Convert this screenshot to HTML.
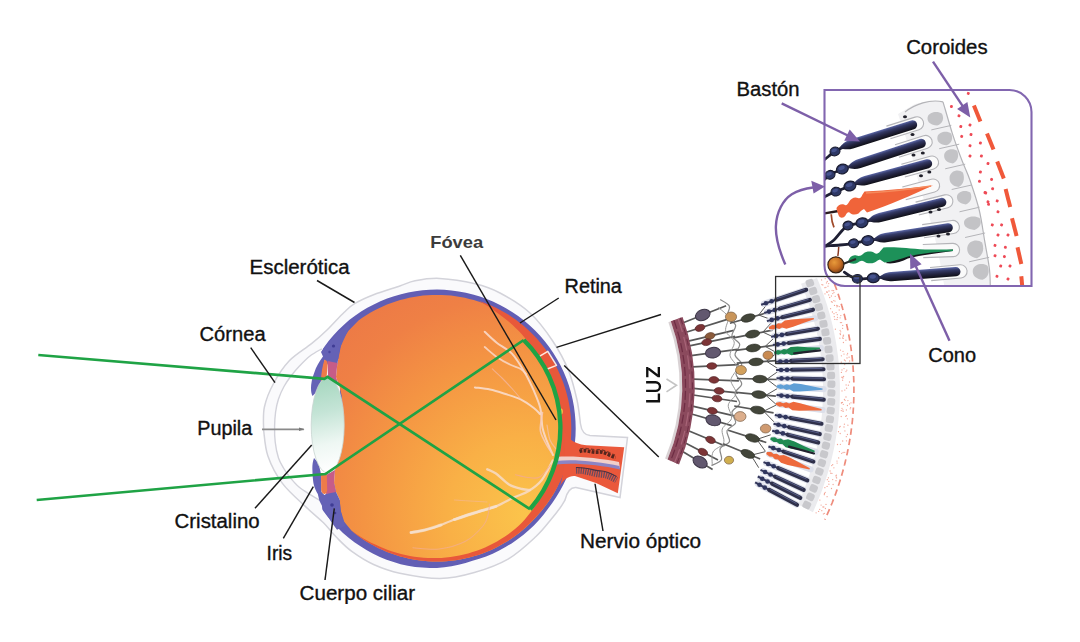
<!DOCTYPE html>
<html><head><meta charset="utf-8"><title>Ojo</title>
<style>html,body{margin:0;padding:0;background:#fff;}svg{display:block}</style></head>
<body>
<svg width="1080" height="642" viewBox="0 0 1080 642">
<defs>
<radialGradient id="gOr" gradientUnits="userSpaceOnUse" cx="525" cy="515" r="260">
 <stop offset="0" stop-color="#fbc44b"/><stop offset="0.3" stop-color="#f9b046"/>
 <stop offset="0.62" stop-color="#f49443"/><stop offset="0.85" stop-color="#ef8045"/><stop offset="1" stop-color="#ed7a46"/>
</radialGradient>
<linearGradient id="gLens" gradientUnits="userSpaceOnUse" x1="318" y1="380" x2="338" y2="470">
 <stop offset="0" stop-color="#a6d7bf"/><stop offset="0.35" stop-color="#c4e4d6"/><stop offset="0.7" stop-color="#eef7f3"/><stop offset="1" stop-color="#ffffff"/>
</linearGradient>
<clipPath id="cEye"><circle cx="437" cy="428.5" r="138"/></clipPath>
<clipPath id="cBack"><path d="M348,280 L600,280 L600,590 L344,590 L344,521 L340.7,510.5 L339.6,499.6 L336,492 L334,483 L335,470 L339.6,456 L344,430 L341.8,396 L339.6,387 L336,377 L337.4,363 L339.6,348 L348,326 Z"/></clipPath>
<clipPath id="cFront"><path d="M338,280 L610,280 L610,600 L330,600 L322,506 L340,500 L340,360 L322,352 Z"/></clipPath><clipPath id="cBox"><path d="M824.5,90 L1009.5,90 A22,22 0 0 1 1031.5,112 L1031.5,286 L845,286 A20.5,20.5 0 0 1 824.5,265.5 Z"/></clipPath><linearGradient id="gRod" x1="0" y1="0" x2="0" y2="1">
<stop offset="0" stop-color="#5b66a6"/><stop offset="0.28" stop-color="#343a66"/><stop offset="0.6" stop-color="#232440"/><stop offset="1" stop-color="#101018"/></linearGradient>
<radialGradient id="gBall" cx="0.4" cy="0.35" r="0.7"><stop offset="0" stop-color="#e89a3a"/><stop offset="0.6" stop-color="#c26a22"/><stop offset="1" stop-color="#6e3a14"/></radialGradient></defs>
<rect width="1080" height="642" fill="#ffffff"/>
<path d="M263.6,430.0 C263.7,426.2 262.7,414.8 264.4,407.0 C266.1,399.2 269.6,390.7 273.8,383.0 C278.0,375.3 283.0,367.4 289.3,360.8 C295.6,354.2 305.2,348.8 311.5,343.7 C317.8,338.6 321.6,335.2 327.0,330.0 C332.4,324.8 339.5,316.6 344.2,312.2 C348.9,307.8 350.1,306.3 355.0,303.4 C359.9,300.5 366.1,297.6 373.6,294.7 C381.1,291.8 392.9,288.3 399.8,286.0 C406.7,283.7 408.4,282.1 415.0,280.8 C421.6,279.5 429.7,277.9 439.7,278.4 C449.7,278.9 464.9,281.3 475.0,283.8 C485.1,286.2 490.8,288.1 500.0,293.0 C509.2,297.9 521.2,305.0 530.0,313.0 C538.8,321.0 546.3,331.4 552.7,341.0 C559.1,350.6 564.5,360.7 568.5,370.5 C572.5,380.3 575.0,391.1 577.0,400.0 C579.0,408.9 579.9,420.0 580.5,424.0 C581.5,431 584,435 590,435.5 L627.5,437.5 L620,497.5 L576,487.5 C570,487 567,492 565,500  C564.2,501.3 562.3,504.8 560.0,508.0 C557.7,511.2 555.4,514.2 551.4,519.0 C547.4,523.8 543.1,529.9 536.0,536.5 C528.9,543.1 518.8,552.8 508.5,558.8 C498.2,564.8 485.7,569.2 474.3,572.5 C462.9,575.8 452.4,578.4 440.0,578.5 C427.6,578.6 410.9,575.5 399.8,573.2 C388.7,570.9 381.6,568.1 373.6,564.5 C365.6,560.9 358.0,555.9 351.8,551.4 C345.6,546.9 341.2,542.1 336.5,537.3 C331.8,532.5 328.5,527.8 323.5,522.8 C318.5,517.8 313.2,514.0 306.4,507.4 C299.5,500.8 288.8,492.0 282.4,483.4 C276.0,474.8 271.0,464.9 267.9,456.0 C264.8,447.1 264.3,434.3 263.6,430.0Z" fill="#fafafc" stroke="#d3d3da" stroke-width="1.5"/>
<path d="M321.8,348.8 C319.8,350.0 313.7,353.1 310.0,356.0 C306.3,358.9 302.7,362.7 299.5,366.0 C296.3,369.3 293.6,372.6 291.0,376.0 C288.4,379.4 286.1,382.7 284.0,386.5 C281.9,390.3 279.9,394.8 278.5,399.0 C277.1,403.2 276.2,407.5 275.6,412.0 C275.0,416.5 274.7,421.0 274.6,426.0 C274.5,431.0 274.6,436.7 275.2,442.0 C275.8,447.3 277.1,453.7 278.5,458.0 C279.9,462.3 281.7,464.9 283.5,468.0 C285.3,471.1 286.7,473.3 289.3,476.5 C291.9,479.7 295.3,483.9 299.0,487.0 C302.7,490.1 308.0,493.1 311.5,495.4 C315.0,497.6 318.6,499.6 320.0,500.5 L332,500 L332,350Z" fill="#ffffff"/>
<path d="M321.8,348.8 C319.8,350.0 313.7,353.1 310.0,356.0 C306.3,358.9 302.7,362.7 299.5,366.0 C296.3,369.3 293.6,372.6 291.0,376.0 C288.4,379.4 286.1,382.7 284.0,386.5 C281.9,390.3 279.9,394.8 278.5,399.0 C277.1,403.2 276.2,407.5 275.6,412.0 C275.0,416.5 274.7,421.0 274.6,426.0 C274.5,431.0 274.6,436.7 275.2,442.0 C275.8,447.3 277.1,453.7 278.5,458.0 C279.9,462.3 281.7,464.9 283.5,468.0 C285.3,471.1 286.7,473.3 289.3,476.5 C291.9,479.7 295.3,483.9 299.0,487.0 C302.7,490.1 308.0,493.1 311.5,495.4 C315.0,497.6 318.6,499.6 320.0,500.5" fill="none" stroke="#d2d2da" stroke-width="1.4"/>
<g clip-path="url(#cFront)">
<polygon points="298.5,428.5 298.6,421.2 299.1,414.0 300.0,406.8 301.3,399.7 302.9,392.6 304.9,385.6 307.3,378.7 310.0,372.0 313.1,365.4 316.5,359.0 320.3,352.7 324.4,346.7 328.8,340.8 333.5,335.3 338.4,329.9 343.7,324.9 349.2,320.1 355.0,315.7 361.1,311.6 367.3,307.8 373.8,304.4 380.4,301.3 387.1,298.6 394.0,296.2 401.0,294.2 408.1,292.5 415.3,291.2 422.5,290.3 429.7,289.7 437.0,289.6 444.3,289.8 451.5,290.4 458.7,291.4 465.9,292.7 472.9,294.4 479.9,296.5 486.7,298.9 493.4,301.8 500.0,304.9 506.4,308.4 512.5,312.2 518.5,316.3 524.3,320.7 529.8,325.4 535.1,330.4 540.1,335.7 544.8,341.2 549.2,347.0 553.3,353.0 557.1,359.2 560.6,365.5 563.7,372.1 566.5,378.8 568.9,385.6 571.0,392.6 572.7,399.7 574.0,406.8 574.9,414.0 575.5,421.2 575.7,428.5 575.5,435.8 574.9,443.0 574.0,450.2 572.7,457.3 571.0,464.4 568.9,471.4 566.4,478.2 563.3,484.7 559.9,491.1 556.1,497.3 552.1,503.2 547.8,509.0 543.5,514.7 538.8,520.2 533.9,525.4 528.7,530.3 523.2,535.0 517.5,539.3 511.6,543.4 505.5,547.1 499.2,550.6 492.7,553.7 486.1,556.4 479.3,558.8 472.5,560.8 465.6,563.0 458.6,564.8 451.5,566.2 444.3,567.3 437.0,568.0 429.7,568.0 422.4,567.6 415.1,566.9 407.8,565.7 400.6,564.2 393.6,562.1 386.6,559.7 379.9,556.9 373.2,553.7 366.8,550.2 360.5,546.3 354.4,542.2 348.6,537.7 343.0,532.9 337.7,527.8 332.6,522.5 327.8,516.9 323.3,511.1 319.2,505.0 315.3,498.8 312.0,492.2 309.0,485.5 306.4,478.6 304.1,471.7 302.3,464.6 300.7,457.5 299.6,450.3 298.9,443.0 298.5,435.8" fill="#625eb4"/>
</g>
<path d="M358.5,320.4 L362.3,317.7 L366.2,315.2 L370.2,312.8 L374.3,310.5 L378.4,308.4 L382.7,306.5 L387.0,304.6 L391.3,303.0 L395.7,301.4 L400.2,300.1 L404.7,298.9 L409.2,297.8 L413.8,296.9 L418.4,296.2 L423.0,295.6 L427.7,295.2 L432.3,295.0 L437.0,294.9 L441.7,295.0 L446.3,295.2 L451.0,295.6 L455.6,296.2 L460.2,296.9 L464.8,297.8 L469.3,298.9 L473.8,300.1 L478.3,301.4 L482.7,303.0 L487.0,304.6 L491.3,306.5 L495.6,308.4 L499.7,310.5 L503.8,312.8 L507.8,315.2 L511.7,317.7 L515.5,320.4 L519.3,323.2 L522.9,326.2 L526.4,329.2 L529.8,332.4 L533.1,335.7 L536.3,339.1 L539.3,342.6 L542.3,346.2 L545.1,350.0 L547.8,353.8 L550.3,357.7 L552.7,361.7 L555.0,365.8 L557.1,369.9 L559.0,374.2 L560.9,378.5 L562.5,382.8 L564.1,387.2 L565.4,391.7 L566.6,396.2 L567.7,400.7 L568.6,405.3 L569.3,409.9 L569.9,414.5 L570.3,419.2 L570.5,423.8 L570.6,428.5 L570.5,433.2 L570.3,437.8 L569.9,442.5 L569.3,447.1 L568.6,451.7 L567.7,456.3 L566.6,460.8 L565.4,465.3 L564.1,469.8 L562.5,474.2 L560.9,478.5 L559.0,482.8 L557.1,487.1 L555.0,491.2 L552.7,495.3 L550.1,499.2 L547.5,503.0 L544.7,506.7 L541.8,510.4 L538.7,513.9 L535.7,517.4 L532.5,520.8 L529.3,524.0 L525.9,527.2 L522.4,530.3 L518.8,533.2 L515.1,536.0 L511.3,538.7 L507.4,541.2 L503.4,543.6 L499.4,545.8 L495.3,548.0 L491.1,549.9 L486.8,551.7 L482.5,553.4 L478.1,554.9 L473.6,556.3 L469.2,557.5 L464.6,558.6 L460.1,559.5 L455.5,560.2 L450.9,560.8 L446.3,561.2 L441.6,561.4 L437.0,561.5 L432.4,561.5 L427.7,561.2 L423.1,560.8 L418.5,560.3 L413.9,559.5 L409.3,558.7 L404.8,557.6 L400.3,556.4 L395.9,555.1 L391.5,553.6 L387.1,551.9 L382.9,550.1 L378.6,548.2 L374.5,546.1 L370.4,543.8 L366.4,541.4 L362.5,538.9 L358.7,536.2 L355.0,533.5 L351.4,530.5 L342.3,519.4 L340.7,510.5 L339.6,499.6 L336,492 L334,483 L335,470 L339.6,456 L344,430 L341.8,396 L339.6,387 L336,377 L337.4,363 L339.8,351.4 L342,340.5 L348.5,330.7 Z" fill="url(#gOr)"/>
<polygon points="478.5,300.8 482.9,302.3 487.3,304.0 491.6,305.8 495.9,307.8 500.1,309.9 504.2,312.2 508.2,314.6 512.1,317.2 515.9,319.8 519.7,322.7 523.3,325.6 526.9,328.7 530.3,331.9 533.6,335.2 536.8,338.6 539.9,342.2 542.8,345.8 545.7,349.6 548.3,353.4 550.9,357.3 553.3,361.4 555.6,365.4 557.7,369.6 559.7,373.9 561.5,378.2 563.2,382.6 564.7,387.0 566.1,391.5 567.3,396.0 568.4,400.6 569.3,405.2 570.0,409.8 570.6,414.5 571.0,419.1 571.2,423.8 571.3,428.5 571.2,433.2 571.0,437.9 570.6,442.5 570.0,447.2 569.3,451.8 568.4,456.4 567.3,461.0 566.1,465.5 564.7,470.0 563.2,474.4 561.4,478.8 559.4,483.0 557.3,487.2 555.1,491.3 552.7,495.3 550.1,499.2 547.5,503.0 544.7,506.7 541.8,510.4 538.7,513.9 535.7,517.4 532.5,520.8 529.3,524.0 525.9,527.2 522.4,530.3 518.8,533.2 515.1,536.0 511.3,538.7 507.4,541.2 503.4,543.6 499.4,545.8 495.3,548.0 491.1,549.9 486.8,551.7 482.5,553.4 478.1,554.9 473.6,556.3 469.2,557.5 464.6,558.6 460.1,559.5 455.5,560.2 450.9,560.8 446.3,561.2 441.6,561.4 437.0,561.5 432.4,561.5 427.7,561.2 423.1,560.8 418.5,560.3 413.9,559.5 409.3,558.7 404.8,557.6 400.3,556.4 395.9,555.1 391.5,553.6 387.1,551.9 382.9,550.1 378.6,548.2 374.5,546.1 370.4,543.8 366.4,541.4 362.5,538.9 358.7,536.2 355.0,533.5 351.4,530.5 351.4,530.5 355.2,533.2 359.0,535.8 363.0,538.2 367.0,540.5 371.1,542.7 375.2,544.6 379.5,546.5 383.7,548.2 387.9,549.9 392.3,551.4 396.6,552.8 401.0,554.0 405.4,555.1 409.9,555.9 414.4,556.7 418.9,557.3 423.4,557.7 427.9,558.0 432.5,558.1 437.0,558.1 441.5,557.9 446.0,557.5 450.5,557.0 455.0,556.3 459.4,555.5 463.8,554.5 468.1,553.4 472.5,552.1 476.7,550.7 480.9,549.2 485.1,547.4 489.1,545.6 493.1,543.6 497.0,541.4 500.9,539.1 504.6,536.7 508.3,534.2 511.8,531.5 515.3,528.7 518.7,525.8 521.8,522.7 524.8,519.4 527.6,516.0 530.4,512.6 533.0,509.1 535.6,505.5 538.1,501.9 540.4,498.3 542.6,494.5 544.7,490.7 546.7,486.8 548.5,482.9 550.3,478.9 552.1,475.0 553.8,471.0 555.2,466.9 556.5,462.8 557.6,458.6 558.6,454.3 559.4,450.1 560.1,445.8 560.6,441.5 561.0,437.2 561.2,432.8 561.3,428.5 561.2,424.2 561.0,419.8 560.6,415.5 560.1,411.2 559.4,406.9 558.6,402.7 557.6,398.4 556.5,394.2 555.2,390.1 553.8,386.0 552.2,381.9 550.6,377.9 548.7,374.0 546.8,370.1 544.6,366.4 542.4,362.6 540.0,359.0 537.6,355.4 534.9,352.0 532.6,348.3 530.1,344.7 527.5,341.1 524.7,337.7 521.8,334.3 518.8,331.1 515.6,327.9 512.3,324.8 508.9,321.8 505.4,319.0 501.8,316.2 498.1,313.6 494.4,310.8 490.6,308.1 486.7,305.5 482.6,303.1 478.5,300.8" fill="#e8583a"/>
<path d="M348,324 C340,330 330,340 321,352 L323,356.5 C319,362 316,367 314.5,372 C312,378 311,384 311,388 C311,392 311.5,394 312.5,396 L316.5,392 C318,388 320,384 321.5,381 L323,372 L324.5,360 L330,368 L337,366 L340,348 L350,326 Z" fill="#6562b6"/>
<circle cx="333.5" cy="346" r="1.6" fill="#3f3c94"/><circle cx="329.5" cy="352" r="1.2" fill="#4a47a0"/>
<path d="M327.6,361 L337.4,363 L336,377 L339,386 L328,378 Z" fill="#c65c88"/>
<path d="M324.5,359.5 C326.5,360 327.8,362 327.6,365 L326.5,379 L321,381 C321,374 322.5,366 324.5,359.5Z" fill="#ee7b4a"/>
<path d="M314,458 C312.5,462 312.2,466 312.4,470 C312.6,476 313,480 313.4,483 C314.5,488 316,491 317.8,494 L319.4,500.7 C321,504 322.5,507 324.4,510.5 C327,515 329,518 331,521.4 L337,529.7 L345,526 L344,521 L340.7,510.5 L339.6,499.6 L336,492 L334,483 L328,478 L327.6,493 L324.4,495 L321.5,492 L321,474 L318.5,463 Z" fill="#6562b6"/>
<circle cx="332" cy="505" r="1.8" fill="#3f3c94"/><circle cx="335" cy="513" r="1.3" fill="#3f3c94"/>
<path d="M326,475 L335,470 L334,483 L336,492 L326,494 Z" fill="#c65c88"/>
<path d="M321,473 L326.8,474 L327.2,490 C327,493 325.5,494.2 324.2,494 C322.5,493.6 321.5,492.5 321.2,490 Z" fill="#ee7b4a"/>
<ellipse cx="327.7" cy="425.2" rx="16.5" ry="47.8" fill="url(#gLens)" stroke="#c8d4d0" stroke-width="0.8"/>
<path d="M484.7,331.8 C486.7,333.6 492.1,339.1 496.7,342.7 C501.2,346.3 507.3,348.6 512.0,353.6 C516.7,358.7 521.4,366.8 525.0,373.0 C528.6,379.2 531.2,384.9 533.8,390.7 C536.3,396.5 538.8,401.8 540.3,408.0 C541.8,414.2 541.4,422.2 542.5,427.7 C543.6,433.2 545.0,436.2 546.8,440.8 C548.5,445.4 552.0,452.6 553.0,455.0" fill="none" stroke="#f9d9c9" stroke-width="2.0" stroke-linecap="round" opacity="0.9"/>
<path d="M484.7,347.0 C486.7,348.6 492.5,354.0 496.7,356.9 C500.9,359.8 505.8,362.5 509.8,364.5 C513.8,366.5 518.0,367.3 520.7,368.9 C523.4,370.5 525.1,373.1 526.0,374.0" fill="none" stroke="#f9d9c9" stroke-width="1.8" stroke-linecap="round" opacity="0.85"/>
<path d="M474.9,387.4 C477.4,387.8 484.9,388.5 490.0,389.6 C495.1,390.7 500.3,392.4 505.4,394.0 C510.5,395.6 516.0,397.1 520.7,399.4 C525.4,401.7 530.6,405.6 533.8,408.0 C537.0,410.4 539.0,413.0 540.0,414.0" fill="none" stroke="#f9dccb" stroke-width="2.0" stroke-linecap="round" opacity="0.9"/>
<path d="M492.3,368.9 C493.9,370.4 498.7,374.7 502.0,378.0 C505.3,381.3 509.0,385.2 512.0,388.5 C515.0,391.8 518.7,396.4 520.0,398.0" fill="none" stroke="#f4b59c" stroke-width="1.1" stroke-linecap="round" opacity="0.8"/>
<path d="M542.5,412.5 C542.1,415.4 539.9,425.1 540.3,430.0 C540.7,434.9 543.2,438.3 545.0,442.0 C546.8,445.7 550.0,450.3 551.0,452.0" fill="none" stroke="#f7cdbd" stroke-width="1.6" stroke-linecap="round" opacity="0.85"/>
<path d="M552.7,460.5 C550.9,463.8 545.8,474.9 541.8,480.0 C537.8,485.1 533.4,488.1 528.7,491.0 C524.0,493.9 519.0,495.0 513.5,497.6 C508.1,500.2 502.6,503.8 496.0,506.4 C489.4,509.0 481.1,510.8 474.2,513.0 C467.3,515.2 461.4,517.0 454.5,519.5 C447.6,522.0 439.9,525.8 432.7,528.0 C425.4,530.2 414.6,531.8 411.0,532.6" fill="none" stroke="#f7dcc8" stroke-width="2.2" stroke-linecap="round" opacity="0.85"/>
<path d="M496.0,506.4 C492.4,507.5 481.1,510.8 474.2,513.0 C467.3,515.2 457.8,518.4 454.5,519.5" fill="none" stroke="#f5e2d2" stroke-width="3.0" stroke-linecap="round" opacity="0.8"/>
<path d="M441.0,525.0 C438.3,525.8 430.0,528.7 425.0,530.0 C420.0,531.3 413.3,532.2 411.0,532.6" fill="none" stroke="#f5e2d2" stroke-width="3.0" stroke-linecap="round" opacity="0.7"/>
<path d="M487.3,469.3 C488.8,470.0 492.4,471.1 496.0,473.6 C499.6,476.1 504.7,481.9 509.0,484.5 C513.3,487.1 518.5,488.1 522.0,489.0 C525.5,489.9 528.7,489.8 530.0,490.0" fill="none" stroke="#f6dcc9" stroke-width="2.4" stroke-linecap="round" opacity="0.85"/>
<path d="M515.6,474.7 C517.7,475.2 524.0,477.1 528.0,477.5 C532.0,477.9 535.9,479.1 539.6,477.0 C543.4,474.9 548.7,467.0 550.5,465.0" fill="none" stroke="#f2aa92" stroke-width="1.1" stroke-linecap="round" opacity="0.8"/>
<path d="M489.5,504.0 C489.2,505.8 489.1,511.3 488.0,515.0 C486.9,518.7 486.8,521.6 483.0,526.0 C479.2,530.4 472.8,537.5 465.5,541.3 C458.2,545.1 448.1,547.9 439.3,549.0 C430.6,550.1 417.4,548.0 413.0,547.8" fill="none" stroke="#f3ad90" stroke-width="1.1" stroke-linecap="round" opacity="0.75"/>
<path d="M454.5,500.0 C457.1,500.2 464.6,500.7 470.0,501.0 C475.4,501.3 484.2,501.8 487.0,502.0" fill="none" stroke="#f3b79c" stroke-width="1.0" stroke-linecap="round" opacity="0.6"/>
<path d="M556.0,449.0 C555.0,447.5 551.5,444.0 550.0,440.0 C548.5,436.0 547.5,427.5 547.0,425.0" fill="none" stroke="#f4c3b4" stroke-width="1.2" stroke-linecap="round" opacity="0.7"/>
<ellipse cx="561" cy="411.5" rx="1.8" ry="3" fill="#f9c84a"/>
<path d="M562,424 C564.5,436 572,444 586.3,445.2 L624.2,447.3 L617.8,493.2 L596,483 L575,476 C569,475.5 564,479 560,486 C565,470 567,446 562,424Z" fill="#ea583b"/>
<path d="M556,457 C575,455.5 600,458.5 619,462 L620,468.2 C600,463 575,460.5 556,463Z" fill="#f1cfc9"/>
<path d="M556,461 C575,459 600,462 619.5,466 L620,469.5 C600,465 575,462.5 556,464.5Z" fill="#8c84c4"/>
<path d="M579.5,451.5 C586,449 592,453 598,452 C604,451 610,456 615.5,457.5" fill="none" stroke="#55261e" stroke-width="3.6" stroke-dasharray="2.8 1.3"/>
<path d="M580,448.8 C586,447 592,450.5 598,449.6 C604,449 610,453.5 615,455" fill="none" stroke="#7a3426" stroke-width="1.2" stroke-dasharray="3.5 2"/>
<path d="M576,470.5 C585,470 594,474 602,474.5 C608,475 612,477.5 616.5,480" fill="none" stroke="#6b4a5e" stroke-width="6.5" stroke-dasharray="1.3 1.0"/>
<path d="M576,467.5 C585,467 594,470.5 602,471 C608,471.5 612,474 616.5,476.5" fill="none" stroke="#4a3040" stroke-width="1.1"/>
<path d="M539,356.7 L547.8,351.3 L556.5,365.4 L546.7,369.3" fill="none" stroke="#fde9df" stroke-width="1.5" stroke-linejoin="round"/>
<path d="M38.3,355 L324.4,378.8 L327.6,376.9 L530,509.2" fill="none" stroke="#1fa345" stroke-width="2.7" stroke-linejoin="miter"/>
<path d="M36.7,500 L325.4,474 L523.75,340" fill="none" stroke="#1fa345" stroke-width="2.7" stroke-linejoin="miter"/>
<path d="M523.75,340 A124,124 0 0 1 530,509.25" fill="none" stroke="#1fa345" stroke-width="4.4" stroke-linejoin="miter"/>
<g id="fan">
<polygon points="801.0,283.7 802.8,288.0 804.5,292.3 806.2,296.6 807.8,301.0 809.3,305.3 810.7,309.8 812.0,314.2 813.3,318.7 814.5,323.2 815.6,327.7 816.7,332.2 817.7,336.8 818.5,341.4 819.4,346.0 820.1,350.6 820.7,355.3 821.3,359.9 821.8,364.6 822.2,369.3 822.5,374.0 822.7,378.7 822.9,383.4 823.0,388.1 823.0,392.9 822.9,397.6 822.7,402.3 822.4,407.1 822.1,411.8 821.7,416.6 821.2,421.3 820.6,426.0 819.9,430.7 819.1,435.4 818.3,440.1 817.4,444.8 816.4,449.5 815.3,454.2 814.1,458.8 812.8,463.5 811.5,468.1 810.1,472.7 808.6,477.3 807.0,481.8 805.3,486.3 803.6,490.9 801.8,495.3 799.9,499.8 797.9,504.2 812.9,512.2 815.0,507.5 817.0,502.8 819.0,498.0 820.9,493.3 822.7,488.5 824.3,483.6 826.0,478.8 827.5,473.9 828.9,469.0 830.3,464.1 831.5,459.2 832.7,454.2 833.8,449.2 834.8,444.3 835.7,439.3 836.5,434.3 837.3,429.3 837.9,424.2 838.5,419.2 838.9,414.2 839.3,409.2 839.6,404.1 839.8,399.1 839.9,394.1 839.9,389.0 839.9,384.0 839.7,379.0 839.5,374.0 839.2,369.0 838.8,364.0 838.3,359.0 837.7,354.1 837.0,349.2 836.3,344.2 835.4,339.3 834.5,334.4 833.5,329.6 832.4,324.7 831.2,319.9 830.0,315.1 828.6,310.4 827.2,305.6 825.7,300.9 824.1,296.3 822.4,291.6 820.7,287.0 818.9,282.5 817.0,277.9" fill="#ebebee"/>
<line x1="683.2" y1="322.7" x2="726.1" y2="305.8" stroke="#585858" stroke-width="1.7"/>
<line x1="686.1" y1="332.3" x2="730.5" y2="318.4" stroke="#585858" stroke-width="1.7"/>
<line x1="688.4" y1="341.2" x2="733.8" y2="330.3" stroke="#585858" stroke-width="1.7"/>
<line x1="689.4" y1="345.8" x2="735.1" y2="336.3" stroke="#585858" stroke-width="1.7"/>
<line x1="691.1" y1="355.6" x2="737.4" y2="349.4" stroke="#585858" stroke-width="1.7"/>
<line x1="692.6" y1="366.9" x2="738.8" y2="364.6" stroke="#585858" stroke-width="1.7"/>
<line x1="693.4" y1="379.1" x2="738.9" y2="380.8" stroke="#585858" stroke-width="1.7"/>
<line x1="693.5" y1="388.3" x2="738.0" y2="392.8" stroke="#585858" stroke-width="1.7"/>
<line x1="693.3" y1="395.0" x2="737.0" y2="401.5" stroke="#585858" stroke-width="1.7"/>
<line x1="692.5" y1="406.2" x2="734.2" y2="415.8" stroke="#585858" stroke-width="1.7"/>
<line x1="691.6" y1="414.0" x2="731.7" y2="425.6" stroke="#585858" stroke-width="1.7"/>
<line x1="688.5" y1="430.7" x2="724.6" y2="445.8" stroke="#585858" stroke-width="1.7"/>
<line x1="685.4" y1="442.9" x2="718.0" y2="459.9" stroke="#585858" stroke-width="1.7"/>
<line x1="682.6" y1="451.6" x2="712.6" y2="469.5" stroke="#585858" stroke-width="1.7"/>
<path d="M720.2,299.6 C721.7,300.7 728.3,303.3 729.4,306.3 C730.6,309.2 726.0,314.3 727.0,317.4 C728.1,320.6 734.7,322.0 735.6,325.1 C736.4,328.2 731.3,332.7 732.0,336.0 C732.7,339.2 739.2,341.3 739.7,344.4 C740.2,347.6 734.7,351.6 735.0,354.9 C735.3,358.2 741.6,360.9 741.7,364.1 C741.9,367.3 736.0,370.7 736.0,374.0 C736.0,377.3 741.9,380.7 741.7,383.9 C741.6,387.1 735.3,389.8 735.0,393.1 C734.7,396.4 740.2,400.4 739.7,403.6 C739.2,406.7 732.7,408.8 732.0,412.0 C731.3,415.3 736.4,419.8 735.6,422.9 C734.7,426.0 728.1,427.4 727.0,430.6 C726.0,433.7 730.6,438.8 729.4,441.7 C728.3,444.7 721.5,445.4 720.2,448.4 C718.8,451.4 722.8,457.0 721.4,459.8 C720.0,462.6 713.1,464.6 711.5,465.5" fill="none" stroke="#8a8a8a" stroke-width="1.2"/>
<path d="M718.0,307.3 C719.7,309.0 726.7,313.2 728.0,317.1 C729.3,321.1 724.7,326.8 725.7,330.9 C726.7,335.1 733.5,338.0 734.2,342.0 C734.9,346.1 729.6,351.1 730.0,355.4 C730.5,359.6 736.7,363.4 736.9,367.6 C737.0,371.7 731.0,375.9 730.9,380.2 C730.7,384.5 736.4,389.1 736.0,393.2 C735.6,397.3 729.0,400.7 728.3,404.9 C727.6,409.1 732.5,414.5 731.5,418.5 C730.5,422.5 723.6,424.9 722.3,429.0 C721.0,433.1 725.2,439.1 723.6,442.9 C722.1,446.8 714.9,448.2 713.0,452.0 C711.1,455.9 712.5,463.7 712.3,466.0" fill="none" stroke="#9a9a9a" stroke-width="1"/>
<line x1="729.9" y1="323.3" x2="768.3" y2="312.3" stroke="#585858" stroke-width="1.7"/>
<line x1="758.7" y1="315.0" x2="767.7" y2="303.4" stroke="#585858" stroke-width="1"/>
<line x1="758.7" y1="315.0" x2="772.5" y2="320.1" stroke="#585858" stroke-width="1"/>
<line x1="733.4" y1="337.9" x2="772.7" y2="330.1" stroke="#585858" stroke-width="1.7"/>
<line x1="762.9" y1="332.1" x2="772.8" y2="321.2" stroke="#585858" stroke-width="1"/>
<line x1="762.9" y1="332.1" x2="776.2" y2="338.3" stroke="#585858" stroke-width="1"/>
<line x1="735.5" y1="350.3" x2="775.1" y2="345.1" stroke="#585858" stroke-width="1.7"/>
<line x1="765.2" y1="346.4" x2="775.8" y2="336.3" stroke="#585858" stroke-width="1"/>
<line x1="765.2" y1="346.4" x2="778.1" y2="353.5" stroke="#585858" stroke-width="1"/>
<line x1="736.7" y1="363.1" x2="776.6" y2="360.7" stroke="#585858" stroke-width="1.7"/>
<line x1="766.6" y1="361.3" x2="777.9" y2="351.9" stroke="#585858" stroke-width="1"/>
<line x1="766.6" y1="361.3" x2="779.0" y2="369.3" stroke="#585858" stroke-width="1"/>
<line x1="736.9" y1="378.5" x2="776.9" y2="379.5" stroke="#585858" stroke-width="1.7"/>
<line x1="766.9" y1="379.2" x2="779.0" y2="370.8" stroke="#585858" stroke-width="1"/>
<line x1="766.9" y1="379.2" x2="778.6" y2="388.2" stroke="#585858" stroke-width="1"/>
<line x1="736.1" y1="392.3" x2="775.9" y2="396.2" stroke="#585858" stroke-width="1.7"/>
<line x1="765.9" y1="395.3" x2="778.6" y2="387.8" stroke="#585858" stroke-width="1"/>
<line x1="765.9" y1="395.3" x2="776.9" y2="405.1" stroke="#585858" stroke-width="1"/>
<line x1="734.2" y1="406.0" x2="773.6" y2="412.9" stroke="#585858" stroke-width="1.7"/>
<line x1="763.7" y1="411.2" x2="776.9" y2="404.7" stroke="#585858" stroke-width="1"/>
<line x1="763.7" y1="411.2" x2="773.9" y2="421.8" stroke="#585858" stroke-width="1"/>
<line x1="728.2" y1="430.2" x2="766.3" y2="442.5" stroke="#585858" stroke-width="1.7"/>
<line x1="756.8" y1="439.4" x2="770.7" y2="434.8" stroke="#585858" stroke-width="1"/>
<line x1="756.8" y1="439.4" x2="765.4" y2="451.3" stroke="#585858" stroke-width="1"/>
<line x1="723.2" y1="443.8" x2="760.2" y2="459.0" stroke="#585858" stroke-width="1.7"/>
<line x1="751.0" y1="455.2" x2="765.2" y2="451.7" stroke="#585858" stroke-width="1"/>
<line x1="751.0" y1="455.2" x2="758.7" y2="467.7" stroke="#585858" stroke-width="1"/>
<ellipse cx="702.8" cy="315.0" rx="7.6" ry="5.3" transform="rotate(-21.5 702.8 315.0)" fill="#62586f" stroke="#3d3647" stroke-width="1"/>
<ellipse cx="700.0" cy="327.9" rx="5" ry="3.3" transform="rotate(-17.4 700.0 327.9)" fill="#7c3436" stroke="#4e2226" stroke-width="0.6"/>
<ellipse cx="710.0" cy="336.0" rx="5" ry="3.3" transform="rotate(-13.6 710.0 336.0)" fill="#8a5a3a" stroke="#5a3a2a" stroke-width="0.6"/>
<ellipse cx="706.7" cy="342.2" rx="5" ry="3.3" transform="rotate(-11.7 706.7 342.2)" fill="#7c3436" stroke="#4e2226" stroke-width="0.6"/>
<ellipse cx="713.0" cy="352.7" rx="7.6" ry="5.3" transform="rotate(-7.6 713.0 352.7)" fill="#62586f" stroke="#3d3647" stroke-width="1"/>
<ellipse cx="711.8" cy="366.0" rx="5" ry="3.3" transform="rotate(-2.9 711.8 366.0)" fill="#7c3436" stroke="#4e2226" stroke-width="0.6"/>
<ellipse cx="713.9" cy="379.9" rx="5" ry="3.3" transform="rotate(2.1 713.9 379.9)" fill="#7c3436" stroke="#4e2226" stroke-width="0.6"/>
<ellipse cx="719.1" cy="390.9" rx="5" ry="3.3" transform="rotate(5.8 719.1 390.9)" fill="#7c3436" stroke="#4e2226" stroke-width="0.6"/>
<ellipse cx="717.0" cy="398.5" rx="5" ry="3.3" transform="rotate(8.5 717.0 398.5)" fill="#7c3436" stroke="#4e2226" stroke-width="0.6"/>
<ellipse cx="712.3" cy="410.8" rx="5" ry="3.3" transform="rotate(13.0 712.3 410.8)" fill="#7c3436" stroke="#4e2226" stroke-width="0.6"/>
<ellipse cx="713.3" cy="420.3" rx="7.6" ry="5.3" transform="rotate(16.1 713.3 420.3)" fill="#62586f" stroke="#3d3647" stroke-width="1"/>
<ellipse cx="710.5" cy="439.9" rx="5" ry="3.3" transform="rotate(22.7 710.5 439.9)" fill="#7c3436" stroke="#4e2226" stroke-width="0.6"/>
<ellipse cx="702.9" cy="452.0" rx="5" ry="3.3" transform="rotate(27.5 702.9 452.0)" fill="#7c3436" stroke="#4e2226" stroke-width="0.6"/>
<ellipse cx="700.1" cy="462.0" rx="7.6" ry="5.3" transform="rotate(30.9 700.1 462.0)" fill="#62586f" stroke="#3d3647" stroke-width="1"/>
<ellipse cx="731.0" cy="316.8" rx="5.6" ry="4.8" fill="#c9955a" stroke="#7a6048" stroke-width="0.7"/>
<ellipse cx="741.0" cy="370.1" rx="5.4" ry="4.6" fill="#d2a05c" stroke="#7a6048" stroke-width="0.7"/>
<ellipse cx="768.0" cy="355.2" rx="5.0" ry="4.2" fill="#c98a50" stroke="#7a6048" stroke-width="0.7"/>
<ellipse cx="740.2" cy="416.5" rx="5.8" ry="4.9" fill="#dcae8c" stroke="#7a6048" stroke-width="0.7"/>
<ellipse cx="765.6" cy="428.6" rx="5.2" ry="4.4" fill="#cf9a70" stroke="#7a6048" stroke-width="0.7"/>
<ellipse cx="729.0" cy="460.2" rx="4.6" ry="3.9" fill="#cfae4e" stroke="#7a6048" stroke-width="0.7"/>
<ellipse cx="748.1" cy="318.0" rx="7.2" ry="3.8" transform="rotate(-16.0 748.1 318.0)" fill="#43463a" stroke="#2c2e26" stroke-width="0.6"/>
<ellipse cx="752.6" cy="334.1" rx="7.2" ry="3.8" transform="rotate(-11.3 752.6 334.1)" fill="#43463a" stroke="#2c2e26" stroke-width="0.6"/>
<ellipse cx="753.3" cy="348.0" rx="7.2" ry="3.8" transform="rotate(-7.4 753.3 348.0)" fill="#43463a" stroke="#2c2e26" stroke-width="0.6"/>
<ellipse cx="756.0" cy="361.9" rx="7.2" ry="3.8" transform="rotate(-3.4 756.0 361.9)" fill="#43463a" stroke="#2c2e26" stroke-width="0.6"/>
<ellipse cx="759.9" cy="379.1" rx="7.2" ry="3.8" transform="rotate(1.4 759.9 379.1)" fill="#43463a" stroke="#2c2e26" stroke-width="0.6"/>
<ellipse cx="759.0" cy="394.6" rx="7.2" ry="3.8" transform="rotate(5.7 759.0 394.6)" fill="#43463a" stroke="#2c2e26" stroke-width="0.6"/>
<ellipse cx="757.8" cy="410.1" rx="7.2" ry="3.8" transform="rotate(10.0 757.8 410.1)" fill="#43463a" stroke="#2c2e26" stroke-width="0.6"/>
<ellipse cx="752.5" cy="438.0" rx="7.2" ry="3.8" transform="rotate(17.8 752.5 438.0)" fill="#43463a" stroke="#2c2e26" stroke-width="0.6"/>
<ellipse cx="747.8" cy="453.9" rx="7.2" ry="3.8" transform="rotate(22.3 747.8 453.9)" fill="#43463a" stroke="#2c2e26" stroke-width="0.6"/>
<path d="M669.6,321.8 A188.5,188.5 0 0 1 666.3,459.1" fill="none" stroke="#d9d2d4" stroke-width="2.6" />
<path d="M676.7,319.2 A196.0,196.0 0 0 1 673.3,462.0" fill="none" stroke="#8b4a5d" stroke-width="12.5" />
<path d="M673.9,320.2 A193.0,193.0 0 0 1 670.5,460.9" fill="none" stroke="#6e2d44" stroke-width="1.2" stroke-dasharray="9 3"/>
<path d="M678.1,318.7 A197.5,197.5 0 0 1 674.6,462.6" fill="none" stroke="#a86478" stroke-width="1.2" stroke-dasharray="14 5"/>
<path d="M680.4,317.8 A200.0,200.0 0 0 1 676.9,463.6" fill="none" stroke="#6e2d44" stroke-width="1.0" stroke-dasharray="7 4"/>
<line x1="764.0" y1="303.8" x2="805.7" y2="289.9" stroke="#dcdfea" stroke-width="6.2" stroke-linecap="round"/>
<line x1="767.1" y1="312.2" x2="809.4" y2="300.0" stroke="#dcdfea" stroke-width="6.2" stroke-linecap="round"/>
<line x1="769.8" y1="320.4" x2="812.5" y2="309.8" stroke="#dcdfea" stroke-width="6.2" stroke-linecap="round"/>
<line x1="771.8" y1="327.5" x2="814.9" y2="318.3" stroke="#dcdfea" stroke-width="6.2" stroke-linecap="round"/>
<line x1="774.0" y1="336.2" x2="817.4" y2="328.8" stroke="#dcdfea" stroke-width="6.2" stroke-linecap="round"/>
<line x1="775.8" y1="344.7" x2="819.4" y2="338.9" stroke="#dcdfea" stroke-width="6.2" stroke-linecap="round"/>
<line x1="777.1" y1="352.4" x2="820.9" y2="348.2" stroke="#dcdfea" stroke-width="6.2" stroke-linecap="round"/>
<line x1="778.3" y1="361.6" x2="822.2" y2="359.2" stroke="#dcdfea" stroke-width="6.2" stroke-linecap="round"/>
<line x1="779.1" y1="370.1" x2="823.0" y2="369.3" stroke="#dcdfea" stroke-width="6.2" stroke-linecap="round"/>
<line x1="779.5" y1="378.3" x2="823.5" y2="379.2" stroke="#dcdfea" stroke-width="6.2" stroke-linecap="round"/>
<line x1="779.6" y1="386.7" x2="823.6" y2="389.1" stroke="#dcdfea" stroke-width="6.2" stroke-linecap="round"/>
<line x1="779.5" y1="395.4" x2="823.3" y2="399.5" stroke="#dcdfea" stroke-width="6.2" stroke-linecap="round"/>
<line x1="778.9" y1="404.1" x2="822.5" y2="410.0" stroke="#dcdfea" stroke-width="6.2" stroke-linecap="round"/>
<line x1="777.7" y1="415.7" x2="821.0" y2="423.7" stroke="#dcdfea" stroke-width="6.2" stroke-linecap="round"/>
<line x1="776.4" y1="424.4" x2="819.4" y2="434.0" stroke="#dcdfea" stroke-width="6.2" stroke-linecap="round"/>
<line x1="775.1" y1="431.4" x2="817.7" y2="442.5" stroke="#dcdfea" stroke-width="6.2" stroke-linecap="round"/>
<line x1="773.4" y1="439.3" x2="815.6" y2="451.8" stroke="#dcdfea" stroke-width="6.2" stroke-linecap="round"/>
<line x1="771.3" y1="447.5" x2="813.0" y2="461.5" stroke="#dcdfea" stroke-width="6.2" stroke-linecap="round"/>
<line x1="769.3" y1="454.0" x2="810.6" y2="469.3" stroke="#dcdfea" stroke-width="6.2" stroke-linecap="round"/>
<line x1="766.3" y1="463.2" x2="806.9" y2="480.2" stroke="#dcdfea" stroke-width="6.2" stroke-linecap="round"/>
<line x1="763.3" y1="471.2" x2="803.2" y2="489.6" stroke="#dcdfea" stroke-width="6.2" stroke-linecap="round"/>
<line x1="760.5" y1="477.9" x2="799.8" y2="497.6" stroke="#dcdfea" stroke-width="6.2" stroke-linecap="round"/>
<line x1="757.8" y1="483.8" x2="796.6" y2="504.6" stroke="#dcdfea" stroke-width="6.2" stroke-linecap="round"/>
<line x1="761.1" y1="304.8" x2="776.3" y2="299.7" stroke="#34375a" stroke-width="2"/>
<circle cx="765.9" cy="303.2" r="2.3" fill="#30365e"/>
<circle cx="771.6" cy="301.3" r="2.3" fill="#30365e"/>
<line x1="776.3" y1="299.7" x2="806.2" y2="289.8" stroke="#2f304a" stroke-width="4.1" stroke-linecap="round"/>
<line x1="777.0" y1="298.5" x2="804.5" y2="289.4" stroke="#5a6290" stroke-width="0.9" stroke-linecap="round"/>
<line x1="764.2" y1="313.0" x2="779.6" y2="308.6" stroke="#34375a" stroke-width="2"/>
<circle cx="769.0" cy="311.6" r="2.3" fill="#30365e"/>
<circle cx="774.8" cy="310.0" r="2.3" fill="#30365e"/>
<line x1="779.6" y1="308.6" x2="809.9" y2="299.9" stroke="#2f304a" stroke-width="4.1" stroke-linecap="round"/>
<line x1="780.3" y1="307.4" x2="808.2" y2="299.4" stroke="#5a6290" stroke-width="0.9" stroke-linecap="round"/>
<line x1="766.9" y1="321.1" x2="782.4" y2="317.2" stroke="#34375a" stroke-width="2"/>
<circle cx="771.7" cy="319.9" r="2.3" fill="#30365e"/>
<circle cx="777.5" cy="318.4" r="2.3" fill="#30365e"/>
<line x1="782.4" y1="317.2" x2="813.0" y2="309.7" stroke="#2f304a" stroke-width="4.1" stroke-linecap="round"/>
<line x1="783.1" y1="316.1" x2="811.3" y2="309.1" stroke="#5a6290" stroke-width="0.9" stroke-linecap="round"/>
<polygon points="769.1,329.1 773.3,329.6 776.1,328.1 779.3,328.9 782.0,327.4 786.4,328.7 793.2,326.8 802.6,323.3 814.0,319.2 813.7,317.9 801.7,318.8 791.6,319.4 784.7,320.5 781.2,323.5 778.1,323.2 775.4,325.2 772.3,324.9 768.7,327.1" fill="#ee6a3c"/>
<line x1="771.1" y1="336.7" x2="786.8" y2="334.0" stroke="#34375a" stroke-width="2"/>
<circle cx="776.0" cy="335.9" r="2.3" fill="#30365e"/>
<circle cx="781.9" cy="334.9" r="2.3" fill="#30365e"/>
<line x1="786.8" y1="334.0" x2="817.9" y2="328.7" stroke="#2f304a" stroke-width="4.1" stroke-linecap="round"/>
<line x1="787.7" y1="333.0" x2="816.2" y2="328.1" stroke="#5a6290" stroke-width="0.9" stroke-linecap="round"/>
<line x1="772.8" y1="345.1" x2="788.7" y2="343.0" stroke="#34375a" stroke-width="2"/>
<circle cx="777.7" cy="344.4" r="2.3" fill="#30365e"/>
<circle cx="783.7" cy="343.6" r="2.3" fill="#30365e"/>
<line x1="788.7" y1="343.0" x2="819.9" y2="338.9" stroke="#2f304a" stroke-width="4.1" stroke-linecap="round"/>
<line x1="789.5" y1="341.9" x2="818.3" y2="338.1" stroke="#5a6290" stroke-width="0.9" stroke-linecap="round"/>
<polygon points="774.2,353.7 778.3,354.7 781.2,353.5 784.3,354.6 787.2,353.5 791.4,355.3 798.3,354.2 808.2,351.7 820.0,349.0 819.8,347.6 807.7,347.2 797.6,346.6 790.6,346.9 786.8,349.5 783.8,348.9 780.9,350.5 777.8,349.9 774.0,351.7" fill="#1f8a52"/>
<line x1="794.2" y1="353.3" x2="820.1" y2="350.4" stroke="#22222e" stroke-width="2.2" stroke-linecap="round"/>
<line x1="775.3" y1="361.8" x2="791.3" y2="360.9" stroke="#34375a" stroke-width="2"/>
<circle cx="780.3" cy="361.5" r="2.3" fill="#30365e"/>
<circle cx="786.3" cy="361.2" r="2.3" fill="#30365e"/>
<line x1="791.3" y1="360.9" x2="822.7" y2="359.2" stroke="#2f304a" stroke-width="4.1" stroke-linecap="round"/>
<line x1="792.2" y1="359.9" x2="821.2" y2="358.3" stroke="#5a6290" stroke-width="0.9" stroke-linecap="round"/>
<line x1="776.1" y1="370.1" x2="792.0" y2="369.8" stroke="#34375a" stroke-width="2"/>
<circle cx="781.1" cy="370.0" r="2.3" fill="#30365e"/>
<circle cx="787.0" cy="369.9" r="2.3" fill="#30365e"/>
<line x1="792.0" y1="369.8" x2="823.5" y2="369.3" stroke="#2f304a" stroke-width="4.1" stroke-linecap="round"/>
<line x1="793.0" y1="368.9" x2="822.0" y2="368.4" stroke="#5a6290" stroke-width="0.9" stroke-linecap="round"/>
<line x1="776.5" y1="378.3" x2="792.5" y2="378.6" stroke="#34375a" stroke-width="2"/>
<circle cx="781.5" cy="378.4" r="2.3" fill="#30365e"/>
<circle cx="787.5" cy="378.5" r="2.3" fill="#30365e"/>
<line x1="792.5" y1="378.6" x2="824.0" y2="379.2" stroke="#2f304a" stroke-width="4.1" stroke-linecap="round"/>
<line x1="793.5" y1="377.7" x2="822.5" y2="378.2" stroke="#5a6290" stroke-width="0.9" stroke-linecap="round"/>
<polygon points="776.6,387.5 780.5,389.1 783.5,388.4 786.5,390.0 789.5,389.2 793.4,391.6 800.4,391.6 810.5,390.7 822.5,389.8 822.6,388.4 810.7,386.1 800.8,384.0 793.8,383.3 789.7,385.2 786.8,384.2 783.7,385.4 780.8,384.3 776.7,385.5" fill="#5f9fd6"/>
<line x1="776.5" y1="395.1" x2="792.4" y2="396.6" stroke="#34375a" stroke-width="2"/>
<circle cx="781.4" cy="395.6" r="2.3" fill="#30365e"/>
<circle cx="787.4" cy="396.2" r="2.3" fill="#30365e"/>
<line x1="792.4" y1="396.6" x2="823.8" y2="399.6" stroke="#2f304a" stroke-width="4.1" stroke-linecap="round"/>
<line x1="793.5" y1="395.8" x2="822.3" y2="398.5" stroke="#5a6290" stroke-width="0.9" stroke-linecap="round"/>
<polygon points="775.8,404.7 779.6,406.7 782.7,406.2 785.5,407.9 788.6,407.5 792.3,410.2 799.2,410.7 809.4,410.5 821.5,410.5 821.6,409.1 810.0,406.0 800.2,403.2 793.4,401.8 789.1,403.5 786.3,402.2 783.1,403.2 780.2,401.9 776.1,402.8" fill="#ee6a3c"/>
<line x1="774.8" y1="415.1" x2="790.5" y2="418.0" stroke="#34375a" stroke-width="2"/>
<circle cx="779.7" cy="416.0" r="2.3" fill="#30365e"/>
<circle cx="785.6" cy="417.1" r="2.3" fill="#30365e"/>
<line x1="790.5" y1="418.0" x2="821.5" y2="423.8" stroke="#2f304a" stroke-width="4.1" stroke-linecap="round"/>
<line x1="791.7" y1="417.3" x2="820.2" y2="422.6" stroke="#5a6290" stroke-width="0.9" stroke-linecap="round"/>
<line x1="773.5" y1="423.7" x2="789.1" y2="427.2" stroke="#34375a" stroke-width="2"/>
<circle cx="778.4" cy="424.8" r="2.3" fill="#30365e"/>
<circle cx="784.2" cy="426.1" r="2.3" fill="#30365e"/>
<line x1="789.1" y1="427.2" x2="819.8" y2="434.1" stroke="#2f304a" stroke-width="4.1" stroke-linecap="round"/>
<line x1="790.3" y1="426.5" x2="818.6" y2="432.9" stroke="#5a6290" stroke-width="0.9" stroke-linecap="round"/>
<line x1="772.2" y1="430.7" x2="787.7" y2="434.7" stroke="#34375a" stroke-width="2"/>
<circle cx="777.0" cy="431.9" r="2.3" fill="#30365e"/>
<circle cx="782.9" cy="433.4" r="2.3" fill="#30365e"/>
<line x1="787.7" y1="434.7" x2="818.2" y2="442.6" stroke="#2f304a" stroke-width="4.1" stroke-linecap="round"/>
<line x1="788.9" y1="434.0" x2="817.0" y2="441.3" stroke="#5a6290" stroke-width="0.9" stroke-linecap="round"/>
<polygon points="770.2,439.4 773.7,441.9 776.8,441.9 779.3,444.0 782.4,444.0 785.6,447.3 792.4,448.9 802.5,450.3 814.4,452.2 814.8,450.8 803.8,445.9 794.6,441.6 788.0,439.2 783.5,440.2 780.9,438.5 777.6,439.0 775.0,437.3 770.8,437.5" fill="#1f8a52"/>
<line x1="788.9" y1="446.6" x2="814.0" y2="453.5" stroke="#22222e" stroke-width="2.2" stroke-linecap="round"/>
<line x1="768.4" y1="446.5" x2="783.6" y2="451.6" stroke="#34375a" stroke-width="2"/>
<circle cx="773.2" cy="448.1" r="2.3" fill="#30365e"/>
<circle cx="778.9" cy="450.0" r="2.3" fill="#30365e"/>
<line x1="783.6" y1="451.6" x2="813.4" y2="461.6" stroke="#2f304a" stroke-width="4.1" stroke-linecap="round"/>
<line x1="784.8" y1="451.0" x2="812.3" y2="460.3" stroke="#5a6290" stroke-width="0.9" stroke-linecap="round"/>
<polygon points="766.2,453.9 769.4,456.6 772.6,456.8 774.9,459.2 778.0,459.4 781.0,462.8 787.7,464.9 797.6,466.9 809.4,469.6 809.9,468.3 799.2,462.6 790.4,457.7 783.9,454.9 779.4,455.6 776.9,453.7 773.6,454.0 771.1,452.1 766.9,452.0" fill="#ee6a3c"/>
<line x1="763.5" y1="462.1" x2="778.3" y2="468.2" stroke="#34375a" stroke-width="2"/>
<circle cx="768.1" cy="464.0" r="2.3" fill="#30365e"/>
<circle cx="773.7" cy="466.3" r="2.3" fill="#30365e"/>
<line x1="778.3" y1="468.2" x2="807.3" y2="480.4" stroke="#2f304a" stroke-width="4.1" stroke-linecap="round"/>
<line x1="779.5" y1="467.7" x2="806.3" y2="478.9" stroke="#5a6290" stroke-width="0.9" stroke-linecap="round"/>
<line x1="760.5" y1="469.9" x2="775.1" y2="476.6" stroke="#34375a" stroke-width="2"/>
<circle cx="765.1" cy="472.0" r="2.3" fill="#30365e"/>
<circle cx="770.5" cy="474.5" r="2.3" fill="#30365e"/>
<line x1="775.1" y1="476.6" x2="803.7" y2="489.8" stroke="#2f304a" stroke-width="4.1" stroke-linecap="round"/>
<line x1="776.4" y1="476.2" x2="802.7" y2="488.3" stroke="#5a6290" stroke-width="0.9" stroke-linecap="round"/>
<line x1="757.8" y1="476.5" x2="772.1" y2="483.7" stroke="#34375a" stroke-width="2"/>
<circle cx="762.2" cy="478.8" r="2.3" fill="#30365e"/>
<circle cx="767.6" cy="481.5" r="2.3" fill="#30365e"/>
<line x1="772.1" y1="483.7" x2="800.3" y2="497.8" stroke="#2f304a" stroke-width="4.1" stroke-linecap="round"/>
<line x1="773.4" y1="483.3" x2="799.3" y2="496.3" stroke="#5a6290" stroke-width="0.9" stroke-linecap="round"/>
<line x1="755.1" y1="482.4" x2="769.2" y2="489.9" stroke="#34375a" stroke-width="2"/>
<circle cx="759.5" cy="484.7" r="2.3" fill="#30365e"/>
<circle cx="764.8" cy="487.6" r="2.3" fill="#30365e"/>
<line x1="769.2" y1="489.9" x2="797.0" y2="504.8" stroke="#2f304a" stroke-width="4.1" stroke-linecap="round"/>
<line x1="770.6" y1="489.6" x2="796.1" y2="503.3" stroke="#5a6290" stroke-width="0.9" stroke-linecap="round"/>
<rect x="805.9" y="279.3" width="8" height="7.4" rx="2.2" transform="rotate(-19.5 809.9 283.0)" fill="#c8c8cc"/>
<rect x="809.1" y="287.3" width="8" height="7.4" rx="2.2" transform="rotate(-17.7 813.1 291.0)" fill="#c8c8cc"/>
<rect x="812.1" y="295.4" width="8" height="7.4" rx="2.2" transform="rotate(-15.9 816.1 299.1)" fill="#c8c8cc"/>
<rect x="814.8" y="303.5" width="8" height="7.4" rx="2.2" transform="rotate(-14.1 818.8 307.2)" fill="#c8c8cc"/>
<rect x="817.3" y="311.8" width="8" height="7.4" rx="2.2" transform="rotate(-12.3 821.3 315.5)" fill="#c8c8cc"/>
<rect x="819.5" y="320.2" width="8" height="7.4" rx="2.2" transform="rotate(-10.5 823.5 323.9)" fill="#c8c8cc"/>
<rect x="821.4" y="328.6" width="8" height="7.4" rx="2.2" transform="rotate(-8.7 825.4 332.3)" fill="#c8c8cc"/>
<rect x="823.1" y="337.1" width="8" height="7.4" rx="2.2" transform="rotate(-6.9 827.1 340.8)" fill="#c8c8cc"/>
<rect x="824.5" y="345.7" width="8" height="7.4" rx="2.2" transform="rotate(-5.1 828.5 349.4)" fill="#c8c8cc"/>
<rect x="825.6" y="354.4" width="8" height="7.4" rx="2.2" transform="rotate(-3.3 829.6 358.1)" fill="#c8c8cc"/>
<rect x="826.5" y="363.0" width="8" height="7.4" rx="2.2" transform="rotate(-1.5 830.5 366.7)" fill="#c8c8cc"/>
<rect x="827.1" y="371.8" width="8" height="7.4" rx="2.2" transform="rotate(0.3 831.1 375.5)" fill="#c8c8cc"/>
<rect x="827.4" y="380.5" width="8" height="7.4" rx="2.2" transform="rotate(2.1 831.4 384.2)" fill="#c8c8cc"/>
<rect x="827.4" y="389.3" width="8" height="7.4" rx="2.2" transform="rotate(3.9 831.4 393.0)" fill="#c8c8cc"/>
<rect x="827.2" y="398.1" width="8" height="7.4" rx="2.2" transform="rotate(5.7 831.2 401.8)" fill="#c8c8cc"/>
<rect x="826.7" y="406.9" width="8" height="7.4" rx="2.2" transform="rotate(7.5 830.7 410.6)" fill="#c8c8cc"/>
<rect x="825.9" y="415.6" width="8" height="7.4" rx="2.2" transform="rotate(9.3 829.9 419.3)" fill="#c8c8cc"/>
<rect x="824.8" y="424.4" width="8" height="7.4" rx="2.2" transform="rotate(11.1 828.8 428.1)" fill="#c8c8cc"/>
<rect x="823.5" y="433.2" width="8" height="7.4" rx="2.2" transform="rotate(12.9 827.5 436.9)" fill="#c8c8cc"/>
<rect x="821.9" y="441.9" width="8" height="7.4" rx="2.2" transform="rotate(14.7 825.9 445.6)" fill="#c8c8cc"/>
<rect x="820.0" y="450.6" width="8" height="7.4" rx="2.2" transform="rotate(16.5 824.0 454.3)" fill="#c8c8cc"/>
<rect x="817.8" y="459.2" width="8" height="7.4" rx="2.2" transform="rotate(18.3 821.8 462.9)" fill="#c8c8cc"/>
<rect x="815.4" y="467.8" width="8" height="7.4" rx="2.2" transform="rotate(20.1 819.4 471.5)" fill="#c8c8cc"/>
<rect x="812.6" y="476.3" width="8" height="7.4" rx="2.2" transform="rotate(21.9 816.6 480.0)" fill="#c8c8cc"/>
<rect x="809.6" y="484.7" width="8" height="7.4" rx="2.2" transform="rotate(23.7 813.6 488.4)" fill="#c8c8cc"/>
<rect x="806.4" y="493.1" width="8" height="7.4" rx="2.2" transform="rotate(25.5 810.4 496.8)" fill="#c8c8cc"/>
<rect x="802.8" y="501.3" width="8" height="7.4" rx="2.2" transform="rotate(27.3 806.8 505.0)" fill="#c8c8cc"/>
<circle cx="847.6" cy="353.3" r="0.65" fill="#f2a596"/>
<circle cx="847.4" cy="434.5" r="0.65" fill="#f2a596"/>
<circle cx="847.4" cy="405.5" r="0.65" fill="#f2a596"/>
<circle cx="829.0" cy="291.0" r="0.65" fill="#f2a596"/>
<circle cx="828.0" cy="286.2" r="0.65" fill="#f2a596"/>
<circle cx="834.0" cy="292.6" r="0.65" fill="#f2a596"/>
<circle cx="842.9" cy="378.0" r="0.65" fill="#f2a596"/>
<circle cx="836.8" cy="305.4" r="0.65" fill="#f2a596"/>
<circle cx="839.6" cy="427.1" r="0.65" fill="#f2a596"/>
<circle cx="846.4" cy="415.7" r="0.65" fill="#f2a596"/>
<circle cx="824.5" cy="513.3" r="0.65" fill="#f2a596"/>
<circle cx="833.1" cy="484.5" r="0.65" fill="#f2a596"/>
<circle cx="839.2" cy="310.0" r="0.65" fill="#f2a596"/>
<circle cx="840.5" cy="350.1" r="0.65" fill="#f2a596"/>
<circle cx="837.0" cy="319.5" r="0.65" fill="#f2a596"/>
<circle cx="844.9" cy="430.9" r="0.65" fill="#f2a596"/>
<circle cx="850.2" cy="408.8" r="0.65" fill="#f2a596"/>
<circle cx="832.1" cy="290.5" r="0.65" fill="#f2a596"/>
<circle cx="842.7" cy="441.0" r="0.65" fill="#f2a596"/>
<circle cx="843.0" cy="351.3" r="0.65" fill="#f2a596"/>
<circle cx="848.4" cy="385.2" r="0.65" fill="#f2a596"/>
<circle cx="833.9" cy="467.8" r="0.65" fill="#f2a596"/>
<circle cx="840.4" cy="334.5" r="0.65" fill="#f2a596"/>
<circle cx="842.4" cy="402.4" r="0.65" fill="#f2a596"/>
<circle cx="841.7" cy="453.3" r="0.65" fill="#f2a596"/>
<circle cx="823.4" cy="513.9" r="0.65" fill="#f2a596"/>
<circle cx="843.6" cy="376.5" r="0.65" fill="#f2a596"/>
<circle cx="836.1" cy="312.6" r="0.65" fill="#f2a596"/>
<circle cx="825.9" cy="287.3" r="0.65" fill="#f2a596"/>
<circle cx="837.0" cy="461.1" r="0.65" fill="#f2a596"/>
<circle cx="831.5" cy="488.5" r="0.65" fill="#f2a596"/>
<circle cx="840.4" cy="444.3" r="0.65" fill="#f2a596"/>
<circle cx="845.7" cy="416.3" r="0.65" fill="#f2a596"/>
<circle cx="828.4" cy="477.8" r="0.65" fill="#f2a596"/>
<circle cx="844.8" cy="390.1" r="0.65" fill="#f2a596"/>
<circle cx="827.4" cy="292.2" r="0.65" fill="#f2a596"/>
<circle cx="838.5" cy="431.7" r="0.65" fill="#f2a596"/>
<circle cx="835.9" cy="475.8" r="0.65" fill="#f2a596"/>
<circle cx="844.0" cy="368.6" r="0.65" fill="#f2a596"/>
<circle cx="826.5" cy="282.9" r="0.65" fill="#f2a596"/>
<circle cx="840.8" cy="315.6" r="0.65" fill="#f2a596"/>
<circle cx="826.6" cy="292.0" r="0.65" fill="#f2a596"/>
<circle cx="836.9" cy="306.8" r="0.65" fill="#f2a596"/>
<circle cx="842.0" cy="369.9" r="0.65" fill="#f2a596"/>
<circle cx="831.4" cy="296.0" r="0.65" fill="#f2a596"/>
<circle cx="842.0" cy="408.3" r="0.65" fill="#f2a596"/>
<circle cx="830.7" cy="473.2" r="0.65" fill="#f2a596"/>
<circle cx="843.4" cy="342.5" r="0.65" fill="#f2a596"/>
<circle cx="841.3" cy="362.2" r="0.65" fill="#f2a596"/>
<circle cx="825.4" cy="508.5" r="0.65" fill="#f2a596"/>
<circle cx="840.1" cy="317.8" r="0.65" fill="#f2a596"/>
<circle cx="840.7" cy="331.8" r="0.65" fill="#f2a596"/>
<circle cx="847.4" cy="418.8" r="0.65" fill="#f2a596"/>
<circle cx="825.2" cy="278.7" r="0.65" fill="#f2a596"/>
<circle cx="844.7" cy="364.6" r="0.65" fill="#f2a596"/>
<circle cx="821.1" cy="505.1" r="0.65" fill="#f2a596"/>
<circle cx="845.1" cy="400.3" r="0.65" fill="#f2a596"/>
<circle cx="846.5" cy="440.8" r="0.65" fill="#f2a596"/>
<circle cx="825.2" cy="492.3" r="0.65" fill="#f2a596"/>
<circle cx="827.1" cy="486.4" r="0.65" fill="#f2a596"/>
<circle cx="846.8" cy="370.2" r="0.65" fill="#f2a596"/>
<circle cx="831.4" cy="301.7" r="0.65" fill="#f2a596"/>
<circle cx="833.6" cy="290.7" r="0.65" fill="#f2a596"/>
<circle cx="842.7" cy="325.4" r="0.65" fill="#f2a596"/>
<circle cx="849.1" cy="357.2" r="0.65" fill="#f2a596"/>
<circle cx="827.4" cy="276.9" r="0.65" fill="#f2a596"/>
<circle cx="833.8" cy="300.6" r="0.65" fill="#f2a596"/>
<circle cx="822.8" cy="284.9" r="0.65" fill="#f2a596"/>
<circle cx="847.9" cy="425.2" r="0.65" fill="#f2a596"/>
<circle cx="843.0" cy="336.1" r="0.65" fill="#f2a596"/>
<circle cx="849.0" cy="363.2" r="0.65" fill="#f2a596"/>
<circle cx="827.3" cy="479.7" r="0.65" fill="#f2a596"/>
<circle cx="846.6" cy="388.2" r="0.65" fill="#f2a596"/>
<circle cx="835.2" cy="296.3" r="0.65" fill="#f2a596"/>
<circle cx="847.0" cy="358.0" r="0.65" fill="#f2a596"/>
<circle cx="836.6" cy="477.9" r="0.65" fill="#f2a596"/>
<circle cx="821.9" cy="284.6" r="0.65" fill="#f2a596"/>
<circle cx="849.6" cy="403.9" r="0.65" fill="#f2a596"/>
<circle cx="850.6" cy="407.7" r="0.65" fill="#f2a596"/>
<circle cx="841.4" cy="403.0" r="0.65" fill="#f2a596"/>
<circle cx="828.9" cy="484.2" r="0.65" fill="#f2a596"/>
<circle cx="843.2" cy="338.3" r="0.65" fill="#f2a596"/>
<circle cx="834.3" cy="316.7" r="0.65" fill="#f2a596"/>
<circle cx="843.3" cy="404.3" r="0.65" fill="#f2a596"/>
<circle cx="847.1" cy="354.8" r="0.65" fill="#f2a596"/>
<circle cx="830.1" cy="471.0" r="0.65" fill="#f2a596"/>
<circle cx="828.8" cy="481.3" r="0.65" fill="#f2a596"/>
<circle cx="831.9" cy="473.4" r="0.65" fill="#f2a596"/>
<circle cx="840.1" cy="330.3" r="0.65" fill="#f2a596"/>
<circle cx="849.7" cy="361.0" r="0.65" fill="#f2a596"/>
<circle cx="828.7" cy="283.6" r="0.65" fill="#f2a596"/>
<circle cx="839.9" cy="338.2" r="0.65" fill="#f2a596"/>
<circle cx="822.9" cy="506.9" r="0.65" fill="#f2a596"/>
<circle cx="819.9" cy="500.1" r="0.65" fill="#f2a596"/>
<circle cx="823.8" cy="507.0" r="0.65" fill="#f2a596"/>
<circle cx="842.6" cy="328.3" r="0.65" fill="#f2a596"/>
<circle cx="841.6" cy="322.6" r="0.65" fill="#f2a596"/>
<circle cx="840.2" cy="426.3" r="0.65" fill="#f2a596"/>
<circle cx="832.7" cy="479.6" r="0.65" fill="#f2a596"/>
<circle cx="840.2" cy="433.5" r="0.65" fill="#f2a596"/>
<circle cx="829.7" cy="297.5" r="0.65" fill="#f2a596"/>
<circle cx="824.3" cy="494.7" r="0.65" fill="#f2a596"/>
<circle cx="838.7" cy="457.9" r="0.65" fill="#f2a596"/>
<circle cx="834.8" cy="319.4" r="0.65" fill="#f2a596"/>
<circle cx="841.4" cy="355.8" r="0.65" fill="#f2a596"/>
<circle cx="821.8" cy="510.7" r="0.65" fill="#f2a596"/>
<circle cx="841.4" cy="372.4" r="0.65" fill="#f2a596"/>
<circle cx="843.1" cy="452.5" r="0.65" fill="#f2a596"/>
<circle cx="837.7" cy="306.0" r="0.65" fill="#f2a596"/>
<circle cx="824.5" cy="493.5" r="0.65" fill="#f2a596"/>
<circle cx="832.4" cy="312.0" r="0.65" fill="#f2a596"/>
<circle cx="818.6" cy="511.4" r="0.65" fill="#f2a596"/>
<circle cx="844.4" cy="360.0" r="0.65" fill="#f2a596"/>
<circle cx="839.3" cy="306.6" r="0.65" fill="#f2a596"/>
<circle cx="819.7" cy="509.3" r="0.65" fill="#f2a596"/>
<circle cx="841.8" cy="402.7" r="0.65" fill="#f2a596"/>
<circle cx="842.6" cy="380.2" r="0.65" fill="#f2a596"/>
<circle cx="836.3" cy="477.1" r="0.65" fill="#f2a596"/>
<circle cx="843.5" cy="335.9" r="0.65" fill="#f2a596"/>
<circle cx="840.1" cy="333.6" r="0.65" fill="#f2a596"/>
<circle cx="842.6" cy="337.9" r="0.65" fill="#f2a596"/>
<circle cx="830.6" cy="308.7" r="0.65" fill="#f2a596"/>
<circle cx="845.4" cy="360.8" r="0.65" fill="#f2a596"/>
<circle cx="841.2" cy="416.5" r="0.65" fill="#f2a596"/>
<circle cx="842.0" cy="377.1" r="0.65" fill="#f2a596"/>
<circle cx="846.0" cy="397.0" r="0.65" fill="#f2a596"/>
<circle cx="851.0" cy="402.8" r="0.65" fill="#f2a596"/>
<circle cx="849.5" cy="382.0" r="0.65" fill="#f2a596"/>
<circle cx="821.6" cy="279.9" r="0.65" fill="#f2a596"/>
<circle cx="837.5" cy="317.3" r="0.65" fill="#f2a596"/>
<circle cx="839.4" cy="451.6" r="0.65" fill="#f2a596"/>
<circle cx="844.0" cy="354.1" r="0.65" fill="#f2a596"/>
<circle cx="842.9" cy="409.9" r="0.65" fill="#f2a596"/>
<circle cx="832.3" cy="302.2" r="0.65" fill="#f2a596"/>
<circle cx="843.5" cy="335.1" r="0.65" fill="#f2a596"/>
<circle cx="837.1" cy="463.1" r="0.65" fill="#f2a596"/>
<circle cx="843.1" cy="411.4" r="0.65" fill="#f2a596"/>
<circle cx="827.1" cy="496.7" r="0.65" fill="#f2a596"/>
<circle cx="844.4" cy="424.2" r="0.65" fill="#f2a596"/>
<circle cx="844.4" cy="399.4" r="0.65" fill="#f2a596"/>
<circle cx="846.1" cy="384.9" r="0.65" fill="#f2a596"/>
<circle cx="842.0" cy="390.9" r="0.65" fill="#f2a596"/>
<circle cx="837.5" cy="444.5" r="0.65" fill="#f2a596"/>
<circle cx="826.0" cy="504.4" r="0.65" fill="#f2a596"/>
<circle cx="841.3" cy="410.6" r="0.65" fill="#f2a596"/>
<circle cx="836.0" cy="480.7" r="0.65" fill="#f2a596"/>
<circle cx="834.5" cy="305.4" r="0.65" fill="#f2a596"/>
<circle cx="832.8" cy="293.6" r="0.65" fill="#f2a596"/>
<circle cx="828.7" cy="294.9" r="0.65" fill="#f2a596"/>
<circle cx="832.7" cy="464.7" r="0.65" fill="#f2a596"/>
<circle cx="834.0" cy="313.7" r="0.65" fill="#f2a596"/>
<circle cx="846.3" cy="436.7" r="0.65" fill="#f2a596"/>
<circle cx="824.9" cy="487.7" r="0.65" fill="#f2a596"/>
<circle cx="835.4" cy="329.2" r="0.65" fill="#f2a596"/>
<circle cx="846.0" cy="371.6" r="0.65" fill="#f2a596"/>
<circle cx="816.1" cy="512.8" r="0.65" fill="#f2a596"/>
<circle cx="837.3" cy="314.7" r="0.65" fill="#f2a596"/>
<circle cx="847.9" cy="400.6" r="0.65" fill="#f2a596"/>
<circle cx="840.4" cy="322.6" r="0.65" fill="#f2a596"/>
<circle cx="844.7" cy="452.3" r="0.65" fill="#f2a596"/>
<circle cx="846.4" cy="409.9" r="0.65" fill="#f2a596"/>
<circle cx="827.3" cy="281.5" r="0.65" fill="#f2a596"/>
<circle cx="844.0" cy="427.0" r="0.65" fill="#f2a596"/>
<circle cx="825.0" cy="293.8" r="0.65" fill="#f2a596"/>
<circle cx="831.7" cy="465.6" r="0.65" fill="#f2a596"/>
<circle cx="835.0" cy="301.1" r="0.65" fill="#f2a596"/>
<circle cx="824.9" cy="287.7" r="0.65" fill="#f2a596"/>
<circle cx="845.9" cy="340.2" r="0.65" fill="#f2a596"/>
<circle cx="842.1" cy="377.4" r="0.65" fill="#f2a596"/>
<circle cx="836.4" cy="475.2" r="0.65" fill="#f2a596"/>
<path d="M830.5,274.1 C830.7,274.5 831.2,275.7 831.5,276.5 C831.8,277.3 832.2,278.1 832.5,278.9 C832.8,279.7 833.1,280.5 833.4,281.3 C833.8,282.1 834.1,282.9 834.4,283.7 C834.7,284.5 835.0,285.3 835.3,286.1 C835.6,286.9 835.9,287.7 836.2,288.5 C836.5,289.3 836.8,290.1 837.0,290.9 C837.3,291.8 837.6,292.6 837.9,293.4 C838.2,294.2 838.4,295.0 838.7,295.8 C839.0,296.7 839.3,297.5 839.5,298.3 C839.8,299.1 840.1,299.9 840.3,300.8 C840.6,301.6 840.8,302.4 841.1,303.2 C841.3,304.1 841.6,304.9 841.8,305.7 C842.1,306.6 842.3,307.4 842.5,308.2 C842.8,309.1 843.0,309.9 843.2,310.7 C843.5,311.6 843.7,312.4 843.9,313.2 C844.1,314.1 844.4,314.9 844.6,315.7 C844.8,316.6 845.0,317.4 845.2,318.3 C845.4,319.1 845.6,319.9 845.8,320.8 C846.0,321.6 846.2,322.5 846.4,323.3 C846.6,324.2 846.8,325.0 847.0,325.9 C847.2,326.7 847.3,327.6 847.5,328.4 C847.7,329.3 847.9,330.1 848.1,331.0 C848.2,331.8 848.4,332.7 848.6,333.5 C848.7,334.4 848.9,335.2 849.0,336.1 C849.2,336.9 849.3,337.8 849.5,338.6 C849.6,339.5 849.8,340.4 849.9,341.2 C850.1,342.1 850.2,342.9 850.3,343.8 C850.5,344.7 850.6,345.5 850.7,346.4 C850.9,347.2 851.0,348.1 851.1,349.0 C851.2,349.8 851.3,350.7 851.5,351.6 C851.6,352.4 851.7,353.3 851.8,354.2 C851.9,355.0 852.0,355.9 852.1,356.8 C852.2,357.6 852.3,358.5 852.4,359.4 C852.4,360.2 852.5,361.1 852.6,362.0 C852.7,362.8 852.8,363.7 852.8,364.6 C852.9,365.4 853.0,366.3 853.1,367.2 C853.1,368.1 853.2,368.9 853.2,369.8 C853.3,370.7 853.4,371.6 853.4,372.4 C853.5,373.3 853.5,374.2 853.6,375.0 C853.6,375.9 853.6,376.8 853.7,377.7 C853.7,378.5 853.7,379.4 853.8,380.3 C853.8,381.2 853.8,382.1 853.8,382.9 C853.9,383.8 853.9,384.7 853.9,385.6 C853.9,386.4 853.9,387.3 853.9,388.2 C853.9,389.1 853.9,389.9 853.9,390.8 C853.9,391.7 853.9,392.6 853.9,393.5 C853.9,394.3 853.9,395.2 853.9,396.1 C853.8,397.0 853.8,397.9 853.8,398.7 C853.8,399.6 853.7,400.5 853.7,401.4 C853.7,402.2 853.6,403.1 853.6,404.0 C853.6,404.9 853.5,405.8 853.5,406.6 C853.4,407.5 853.4,408.4 853.3,409.3 C853.3,410.2 853.2,411.0 853.1,411.9 C853.1,412.8 853.0,413.7 852.9,414.6 C852.9,415.4 852.8,416.3 852.7,417.2 C852.6,418.1 852.5,418.9 852.5,419.8 C852.4,420.7 852.3,421.6 852.2,422.5 C852.1,423.3 852.0,424.2 851.9,425.1 C851.8,426.0 851.7,426.8 851.6,427.7 C851.5,428.6 851.3,429.5 851.2,430.3 C851.1,431.2 851.0,432.1 850.9,433.0 C850.7,433.9 850.6,434.7 850.5,435.6 C850.3,436.5 850.2,437.4 850.1,438.2 C849.9,439.1 849.8,440.0 849.6,440.8 C849.5,441.7 849.3,442.6 849.2,443.5 C849.0,444.3 848.8,445.2 848.7,446.1 C848.5,446.9 848.3,447.8 848.2,448.7 C848.0,449.6 847.8,450.4 847.6,451.3 C847.5,452.2 847.3,453.0 847.1,453.9 C846.9,454.8 846.7,455.6 846.5,456.5 C846.3,457.4 846.1,458.2 845.9,459.1 C845.7,460.0 845.5,460.8 845.3,461.7 C845.1,462.6 844.9,463.4 844.7,464.3 C844.4,465.1 844.2,466.0 844.0,466.9 C843.8,467.7 843.5,468.6 843.3,469.4 C843.1,470.3 842.8,471.2 842.6,472.0 C842.4,472.9 842.1,473.7 841.9,474.6 C841.6,475.4 841.4,476.3 841.1,477.2 C840.8,478.0 840.6,478.9 840.3,479.7 C840.1,480.6 839.8,481.4 839.5,482.3 C839.3,483.1 839.0,484.0 838.7,484.8 C838.4,485.7 838.1,486.5 837.8,487.4 C837.6,488.2 837.3,489.0 837.0,489.9 C836.7,490.7 836.4,491.6 836.1,492.4 C835.8,493.3 835.5,494.1 835.2,494.9 C834.9,495.8 834.5,496.6 834.2,497.5 C833.9,498.3 833.6,499.1 833.3,500.0 C832.9,500.8 832.6,501.6 832.3,502.5 C832.0,503.3 831.6,504.1 831.3,505.0 C830.9,505.8 830.6,506.6 830.3,507.4 C829.9,508.3 829.6,509.1 829.2,509.9 C828.9,510.7 828.5,511.6 828.1,512.4 C827.8,513.2 827.4,514.0 827.0,514.8 C826.7,515.7 826.3,516.5 825.9,517.3 C825.6,518.1 825.0,519.3 824.8,519.7" fill="none" stroke="#ee8c7c" stroke-width="1.7" stroke-dasharray="6.5 4"/>
</g>
<path d="M824.5,90 L1009.5,90 A22,22 0 0 1 1031.5,112 L1031.5,286 L845,286 A20.5,20.5 0 0 1 824.5,265.5 Z" fill="#ffffff"/>
<g clip-path="url(#cBox)">
<polygon points="898.0,114.0 915.0,104.0 930.0,100.5 943.0,101.8 952.4,133.6 961.7,159.8 969.9,180.0 979.2,210.0 984.8,241.7 989.5,269.7 990.4,290.0 945.0,290.0 940.0,262.0 935.0,238.0 928.0,212.0 920.0,188.0 913.0,160.0 905.0,135.0" fill="#f1f1f3"/>
<g transform="translate(917.0 123.4) rotate(-17.5)"><path d="M-30,-6.6 L0,-6.6 A6.6,6.6 0 0 1 0,6.6 L-30,6.6" fill="#fafafa" stroke="#b4b4b8" stroke-width="1.1"/></g>
<g transform="translate(925.6 142.0) rotate(-17.5)"><path d="M-30,-6.6 L0,-6.6 A6.6,6.6 0 0 1 0,6.6 L-30,6.6" fill="#fafafa" stroke="#b4b4b8" stroke-width="1.1"/></g>
<g transform="translate(932.0 162.6) rotate(-15.5)"><path d="M-30,-6.6 L0,-6.6 A6.6,6.6 0 0 1 0,6.6 L-30,6.6" fill="#fafafa" stroke="#b4b4b8" stroke-width="1.1"/></g>
<g transform="translate(933.0 185.6) rotate(-15)"><path d="M-30,-6.6 L0,-6.6 A6.6,6.6 0 0 1 0,6.6 L-30,6.6" fill="#fafafa" stroke="#b4b4b8" stroke-width="1.1"/></g>
<g transform="translate(946.3 201.3) rotate(-14)"><path d="M-30,-6.6 L0,-6.6 A6.6,6.6 0 0 1 0,6.6 L-30,6.6" fill="#fafafa" stroke="#b4b4b8" stroke-width="1.1"/></g>
<g transform="translate(952.8 227.0) rotate(-8)"><path d="M-30,-6.6 L0,-6.6 A6.6,6.6 0 0 1 0,6.6 L-30,6.6" fill="#fafafa" stroke="#b4b4b8" stroke-width="1.1"/></g>
<g transform="translate(953.0 250.0) rotate(-2)"><path d="M-30,-6.6 L0,-6.6 A6.6,6.6 0 0 1 0,6.6 L-30,6.6" fill="#fafafa" stroke="#b4b4b8" stroke-width="1.1"/></g>
<g transform="translate(960.5 271.4) rotate(-5)"><path d="M-30,-6.6 L0,-6.6 A6.6,6.6 0 0 1 0,6.6 L-30,6.6" fill="#fafafa" stroke="#b4b4b8" stroke-width="1.1"/></g>
<path d="M943.0,101.8 C944.6,107.1 949.3,123.9 952.4,133.6 C955.5,143.3 958.8,152.1 961.7,159.8 C964.6,167.5 967.0,171.6 969.9,180.0 C972.8,188.4 976.7,199.7 979.2,210.0 C981.7,220.3 983.1,231.8 984.8,241.7 C986.5,251.6 988.6,261.6 989.5,269.7 C990.4,277.8 990.2,286.6 990.4,290.0" fill="none" stroke="#b4b4b8" stroke-width="1.2"/>
<path d="M905,112 C915,104 930,99 943,101.8" fill="none" stroke="#b4b4b8" stroke-width="1.2"/>
<line x1="931.3" y1="129.9" x2="951.3" y2="125.4" stroke="#b4b4b8" stroke-width="1"/>
<line x1="939.2" y1="148.7" x2="959.2" y2="144.2" stroke="#b4b4b8" stroke-width="1"/>
<line x1="945.2" y1="168.8" x2="965.2" y2="164.2" stroke="#b4b4b8" stroke-width="1"/>
<line x1="951.7" y1="189.5" x2="971.7" y2="185.0" stroke="#b4b4b8" stroke-width="1"/>
<line x1="959.5" y1="211.8" x2="979.5" y2="207.2" stroke="#b4b4b8" stroke-width="1"/>
<line x1="965.1" y1="237.5" x2="985.1" y2="233.0" stroke="#b4b4b8" stroke-width="1"/>
<line x1="969.2" y1="261.8" x2="989.2" y2="257.3" stroke="#b4b4b8" stroke-width="1"/>
<path d="M927.6,117.2 C929.2,111.6 938.0,110.9 942.0,113.7 C944.4,118.6 942.8,123.5 937.2,125.6 C930.8,124.9 926.8,122.1 927.6,117.2Z" fill="#c3c3c6"/>
<path d="M937.4,136.9 C938.9,131.3 947.3,130.6 951.1,133.4 C953.4,138.3 951.8,143.2 946.5,145.3 C940.4,144.6 936.6,141.8 937.4,136.9Z" fill="#c3c3c6"/>
<path d="M944.2,154.5 C945.6,148.6 953.6,147.9 957.2,150.8 C959.3,156.0 957.9,161.2 952.8,163.4 C947.1,162.7 943.5,159.7 944.2,154.5Z" fill="#c3c3c6"/>
<path d="M949.6,176.8 C951.1,169.9 959.2,169.0 962.9,172.5 C965.1,178.5 963.7,184.5 958.5,187.1 C952.6,186.2 948.9,182.8 949.6,176.8Z" fill="#c3c3c6"/>
<path d="M957.0,196.1 C958.5,190.5 966.6,189.8 970.3,192.6 C972.5,197.5 971.1,202.4 965.9,204.5 C960.0,203.8 956.3,201.0 957.0,196.1Z" fill="#c3c3c6"/>
<path d="M964.1,221.6 C965.8,216.0 975.3,215.3 979.6,218.1 C982.2,223.0 980.4,227.9 974.4,230.0 C967.5,229.3 963.2,226.5 964.1,221.6Z" fill="#c3c3c6"/>
<path d="M967.3,247.2 C968.9,239.8 978.0,238.9 982.1,242.6 C984.5,249.0 982.9,255.4 977.1,258.2 C970.6,257.3 966.5,253.6 967.3,247.2Z" fill="#c3c3c6"/>
<path d="M972.8,270.0 C974.4,263.4 983.5,262.6 987.6,265.9 C990.0,271.6 988.4,277.3 982.6,279.8 C976.1,279.0 972.0,275.7 972.8,270.0Z" fill="#c3c3c6"/>
<ellipse cx="913.5" cy="155" rx="2" ry="1.5" fill="#20202a"/>
<ellipse cx="922.8" cy="153" rx="2" ry="1.5" fill="#20202a"/>
<ellipse cx="921" cy="175.7" rx="2" ry="1.5" fill="#20202a"/>
<ellipse cx="929.3" cy="172" rx="2" ry="1.5" fill="#20202a"/>
<ellipse cx="930.5" cy="212" rx="2" ry="1.5" fill="#20202a"/>
<ellipse cx="939" cy="209.5" rx="2" ry="1.5" fill="#20202a"/>
<ellipse cx="938.5" cy="236" rx="2" ry="1.5" fill="#20202a"/>
<ellipse cx="948" cy="234" rx="2" ry="1.5" fill="#20202a"/>
<ellipse cx="905" cy="116.8" rx="2" ry="1.5" fill="#20202a"/>
<ellipse cx="912.5" cy="134.6" rx="2" ry="1.5" fill="#20202a"/>
<path d="M824.0,160.0 C824.8,159.3 827.2,157.4 829.0,156.0 C830.8,154.6 832.2,153.1 835.0,151.4 C837.8,149.7 844.2,146.7 846.0,145.8" fill="none" stroke="#1f2034" stroke-width="2.8" stroke-linecap="round"/>
<ellipse cx="835.0" cy="151.4" rx="5.0" ry="4.3" transform="rotate(-17.5 835.0 151.4)" fill="#2e3866" stroke="#1a1c30" stroke-width="1.2"/>
<ellipse cx="834.5" cy="150.2" rx="2.8" ry="1.7" transform="rotate(-17.5 835.0 151.4)" fill="#4c5a98" opacity="0.8"/>
<g transform="translate(846.0 145.8) rotate(-17.5)"><path d="M-7,0 C-4,-2 0,-4.6 6,-4.6 L69.8,-4.6 A4.6,4.6 0 0 1 69.8,4.6 L6,4.6 C0,4.6 -4,2 -7,0Z" fill="url(#gRod)"/></g>
<path d="M824.0,180.0 C825.0,179.1 826.9,176.6 830.0,174.8 C833.1,173.0 838.5,170.6 842.4,169.0 C846.3,167.4 851.7,166.0 853.6,165.4" fill="none" stroke="#1f2034" stroke-width="2.8" stroke-linecap="round"/>
<ellipse cx="830.0" cy="174.8" rx="5.0" ry="4.3" transform="rotate(-18.0 830.0 174.8)" fill="#2e3866" stroke="#1a1c30" stroke-width="1.2"/>
<ellipse cx="829.5" cy="173.6" rx="2.8" ry="1.7" transform="rotate(-18.0 830.0 174.8)" fill="#4c5a98" opacity="0.8"/>
<ellipse cx="842.4" cy="169.0" rx="6.0" ry="4.8" transform="rotate(-18.0 842.4 169.0)" fill="#2e3866" stroke="#1a1c30" stroke-width="1.2"/>
<ellipse cx="841.9" cy="167.8" rx="3.3" ry="1.9" transform="rotate(-18.0 842.4 169.0)" fill="#4c5a98" opacity="0.8"/>
<g transform="translate(853.6 165.4) rotate(-18.0)"><path d="M-7,0 C-4,-2 0,-4.6 6,-4.6 L71.1,-4.6 A4.6,4.6 0 0 1 71.1,4.6 L6,4.6 C0,4.6 -4,2 -7,0Z" fill="url(#gRod)"/></g>
<path d="M824.0,197.0 C825.0,196.5 828.0,194.9 830.0,194.0 C832.0,193.1 832.7,192.9 836.0,191.6 C839.3,190.3 846.0,187.6 850.0,186.0 C854.0,184.4 858.3,182.7 860.0,182.0" fill="none" stroke="#1f2034" stroke-width="2.8" stroke-linecap="round"/>
<ellipse cx="836.0" cy="191.6" rx="5.0" ry="4.3" transform="rotate(-15.1 836.0 191.6)" fill="#2e3866" stroke="#1a1c30" stroke-width="1.2"/>
<ellipse cx="835.5" cy="190.4" rx="2.8" ry="1.7" transform="rotate(-15.1 836.0 191.6)" fill="#4c5a98" opacity="0.8"/>
<ellipse cx="850.0" cy="186.0" rx="6.0" ry="4.8" transform="rotate(-15.1 850.0 186.0)" fill="#2e3866" stroke="#1a1c30" stroke-width="1.2"/>
<ellipse cx="849.5" cy="184.8" rx="3.3" ry="1.9" transform="rotate(-15.1 850.0 186.0)" fill="#4c5a98" opacity="0.8"/>
<g transform="translate(860.0 182.0) rotate(-15.1)"><path d="M-7,0 C-4,-2 0,-4.6 6,-4.6 L70.0,-4.6 A4.6,4.6 0 0 1 70.0,4.6 L6,4.6 C0,4.6 -4,2 -7,0Z" fill="url(#gRod)"/></g>
<path d="M825.6,246.0 C827.0,245.0 831.2,242.6 834.0,240.0 C836.8,237.4 840.1,232.6 842.4,230.2 C844.7,227.8 844.7,226.8 848.0,225.5 C851.3,224.2 857.6,223.8 862.0,222.7 C866.4,221.6 872.2,219.6 874.2,219.0" fill="none" stroke="#1f2034" stroke-width="2.8" stroke-linecap="round"/>
<ellipse cx="848.0" cy="225.5" rx="5.0" ry="4.3" transform="rotate(-13.8 848.0 225.5)" fill="#2e3866" stroke="#1a1c30" stroke-width="1.2"/>
<ellipse cx="847.5" cy="224.3" rx="2.8" ry="1.7" transform="rotate(-13.8 848.0 225.5)" fill="#4c5a98" opacity="0.8"/>
<ellipse cx="862.0" cy="222.7" rx="6.0" ry="4.8" transform="rotate(-13.8 862.0 222.7)" fill="#2e3866" stroke="#1a1c30" stroke-width="1.2"/>
<ellipse cx="861.5" cy="221.5" rx="3.3" ry="1.9" transform="rotate(-13.8 862.0 222.7)" fill="#4c5a98" opacity="0.8"/>
<g transform="translate(874.2 219.0) rotate(-13.8)"><path d="M-7,0 C-4,-2 0,-4.6 6,-4.6 L69.6,-4.6 A4.6,4.6 0 0 1 69.6,4.6 L6,4.6 C0,4.6 -4,2 -7,0Z" fill="url(#gRod)"/></g>
<path d="M825.6,246.0 C828.0,245.8 835.3,245.4 840.0,245.0 C844.7,244.6 849.0,244.1 853.6,243.3 C858.2,242.6 863.3,241.3 867.7,240.5 C872.1,239.7 877.8,238.9 879.8,238.6" fill="none" stroke="#1f2034" stroke-width="2.8" stroke-linecap="round"/>
<ellipse cx="853.6" cy="243.3" rx="5.0" ry="4.3" transform="rotate(-9.0 853.6 243.3)" fill="#2e3866" stroke="#1a1c30" stroke-width="1.2"/>
<ellipse cx="853.1" cy="242.1" rx="2.8" ry="1.7" transform="rotate(-9.0 853.6 243.3)" fill="#4c5a98" opacity="0.8"/>
<ellipse cx="867.7" cy="240.5" rx="6.0" ry="4.8" transform="rotate(-9.0 867.7 240.5)" fill="#2e3866" stroke="#1a1c30" stroke-width="1.2"/>
<ellipse cx="867.2" cy="239.3" rx="3.3" ry="1.9" transform="rotate(-9.0 867.7 240.5)" fill="#4c5a98" opacity="0.8"/>
<g transform="translate(879.8 238.6) rotate(-9.0)"><path d="M-7,0 C-4,-2 0,-4.6 6,-4.6 L69.3,-4.6 A4.6,4.6 0 0 1 69.3,4.6 L6,4.6 C0,4.6 -4,2 -7,0Z" fill="url(#gRod)"/></g>
<path d="M844.3,272.2 C845.2,272.8 847.8,274.9 850.0,276.0 C852.2,277.1 853.5,278.5 857.4,278.8 C861.3,279.1 868.6,278.2 873.3,277.9 C878.0,277.6 883.4,277.1 885.4,277.0" fill="none" stroke="#1f2034" stroke-width="2.8" stroke-linecap="round"/>
<ellipse cx="857.4" cy="278.8" rx="5.0" ry="4.3" transform="rotate(-4.3 857.4 278.8)" fill="#2e3866" stroke="#1a1c30" stroke-width="1.2"/>
<ellipse cx="856.9" cy="277.6" rx="2.8" ry="1.7" transform="rotate(-4.3 857.4 278.8)" fill="#4c5a98" opacity="0.8"/>
<ellipse cx="873.3" cy="277.9" rx="6.0" ry="4.8" transform="rotate(-4.3 873.3 277.9)" fill="#2e3866" stroke="#1a1c30" stroke-width="1.2"/>
<ellipse cx="872.8" cy="276.7" rx="3.3" ry="1.9" transform="rotate(-4.3 873.3 277.9)" fill="#4c5a98" opacity="0.8"/>
<g transform="translate(885.4 277.0) rotate(-4.3)"><path d="M-7,0 C-4,-2 0,-4.6 6,-4.6 L70.7,-4.6 A4.6,4.6 0 0 1 70.7,4.6 L6,4.6 C0,4.6 -4,2 -7,0Z" fill="url(#gRod)"/></g>
<path d="M824.6,213.4 L838.5,211" stroke="#2a1c1e" stroke-width="2.3" fill="none"/>
<path d="M831.2,214.3 C831.5,220 832.5,224 834,227.4" stroke="#a04a2a" stroke-width="1.7" fill="none"/>
<path d="M836.5,208 C838,204.5 841.5,203.5 844,204.5 C846,206 847.5,205 849,202 C851,198 855,196.5 858,198 C860,199 861.5,197 862.5,194.5 L864.5,191.5 C888,190.5 912,188 933,185.6 C912,195 888,206 867,212.5 L864,209 C861.5,210 860,212 858.5,213.5 C855,215.5 851,214.5 849.5,212.5 C848,211.5 846.5,213 845.5,215.5 C843,219 839.5,218 838.5,215 C837.5,212 836.5,210.5 836.5,208Z" fill="#f0643a"/>
<path d="M866,193 C888,192 912,189 931,186" stroke="#f58a5c" stroke-width="1.5" fill="none"/>
<path d="M885.4,263 C893,264.5 901,262 907.8,258.5 C920,255 936,253.5 953,251 L953,249.5 C936,251 920,252 908,254 C900,256 892,259 885.4,263Z" fill="#16161c"/>
<path d="M848,261.5 C849.5,256.5 853,254.5 856.5,255.5 C859.5,256.5 861.5,255.5 863.5,253.5 C866.5,251 871.5,251 874.5,253 C876.5,254.5 878.5,253.5 880,251.5 L883.5,247.5 C895,246.5 908,248.5 925,249.5 L953,249.6 L953,251 C936,252 920,253.5 908,256.5 C900,259 892,262 884.5,262.5 L880,259.5 C878,260 876.5,261.5 874.5,262.5 C871,264 866.5,263.5 864,261.5 C862,260 860,261 858,262.5 C854.5,264.5 850,264 848,261.5Z" fill="#1d9159"/>
<path d="M843,264 C848,262 852,260.5 856,259" stroke="#2a2a2a" stroke-width="2" fill="none"/>
<path d="M837.8,256 C838.5,252 838.5,250 838.7,247" stroke="#8a3a22" stroke-width="1.5" fill="none"/>
<circle cx="835.9" cy="264.8" r="8" fill="url(#gBall)" stroke="#3a2414" stroke-width="1.2"/>
<rect x="950.0" y="105.1" width="2.8" height="2.8" rx="0.9" fill="#ee4a56" transform="rotate(20 951.4 106.5)"/>
<rect x="957.6" y="114.4" width="2.8" height="2.8" rx="0.9" fill="#ee4a56" transform="rotate(20 959.0 115.8)"/>
<rect x="959.4" y="125.1" width="2.8" height="2.8" rx="0.9" fill="#ee4a56" transform="rotate(20 960.8 126.5)"/>
<rect x="968.6" y="123.6" width="2.8" height="2.8" rx="0.9" fill="#ee4a56" transform="rotate(20 970.0 125.0)"/>
<rect x="960.3" y="135.0" width="2.8" height="2.8" rx="0.9" fill="#ee4a56" transform="rotate(20 961.7 136.4)"/>
<rect x="969.6" y="133.1" width="2.8" height="2.8" rx="0.9" fill="#ee4a56" transform="rotate(20 971.0 134.5)"/>
<rect x="968.6" y="144.3" width="2.8" height="2.8" rx="0.9" fill="#ee4a56" transform="rotate(20 970.0 145.7)"/>
<rect x="979.0" y="141.6" width="2.8" height="2.8" rx="0.9" fill="#ee4a56" transform="rotate(20 980.4 143.0)"/>
<rect x="968.6" y="154.6" width="2.8" height="2.8" rx="0.9" fill="#ee4a56" transform="rotate(20 970.0 156.0)"/>
<rect x="980.0" y="154.6" width="2.8" height="2.8" rx="0.9" fill="#ee4a56" transform="rotate(20 981.4 156.0)"/>
<rect x="986.6" y="162.1" width="2.8" height="2.8" rx="0.9" fill="#ee4a56" transform="rotate(20 988.0 163.5)"/>
<rect x="979.0" y="170.6" width="2.8" height="2.8" rx="0.9" fill="#ee4a56" transform="rotate(20 980.4 172.0)"/>
<rect x="978.1" y="179.9" width="2.8" height="2.8" rx="0.9" fill="#ee4a56" transform="rotate(20 979.5 181.3)"/>
<rect x="990.2" y="178.0" width="2.8" height="2.8" rx="0.9" fill="#ee4a56" transform="rotate(20 991.6 179.4)"/>
<rect x="983.6" y="191.1" width="2.8" height="2.8" rx="0.9" fill="#ee4a56" transform="rotate(20 985.0 192.5)"/>
<rect x="991.2" y="187.3" width="2.8" height="2.8" rx="0.9" fill="#ee4a56" transform="rotate(20 992.6 188.7)"/>
<rect x="995.8" y="199.5" width="2.8" height="2.8" rx="0.9" fill="#ee4a56" transform="rotate(20 997.2 200.9)"/>
<rect x="986.6" y="200.4" width="2.8" height="2.8" rx="0.9" fill="#ee4a56" transform="rotate(20 988.0 201.8)"/>
<rect x="984.3" y="191.6" width="2.8" height="2.8" rx="0.9" fill="#ee4a56" transform="rotate(20 985.7 193.0)"/>
<rect x="987.2" y="202.9" width="2.8" height="2.8" rx="0.9" fill="#ee4a56" transform="rotate(20 988.6 204.3)"/>
<rect x="996.6" y="210.4" width="2.8" height="2.8" rx="0.9" fill="#ee4a56" transform="rotate(20 998.0 211.8)"/>
<rect x="990.9" y="223.5" width="2.8" height="2.8" rx="0.9" fill="#ee4a56" transform="rotate(20 992.3 224.9)"/>
<rect x="1000.2" y="223.5" width="2.8" height="2.8" rx="0.9" fill="#ee4a56" transform="rotate(20 1001.6 224.9)"/>
<rect x="996.6" y="233.6" width="2.8" height="2.8" rx="0.9" fill="#ee4a56" transform="rotate(20 998.0 235.0)"/>
<rect x="1006.6" y="233.6" width="2.8" height="2.8" rx="0.9" fill="#ee4a56" transform="rotate(20 1008.0 235.0)"/>
<rect x="993.6" y="244.0" width="2.8" height="2.8" rx="0.9" fill="#ee4a56" transform="rotate(20 995.0 245.4)"/>
<rect x="1004.0" y="245.9" width="2.8" height="2.8" rx="0.9" fill="#ee4a56" transform="rotate(20 1005.4 247.3)"/>
<rect x="993.6" y="254.3" width="2.8" height="2.8" rx="0.9" fill="#ee4a56" transform="rotate(20 995.0 255.7)"/>
<rect x="1003.0" y="255.2" width="2.8" height="2.8" rx="0.9" fill="#ee4a56" transform="rotate(20 1004.4 256.6)"/>
<rect x="999.3" y="264.6" width="2.8" height="2.8" rx="0.9" fill="#ee4a56" transform="rotate(20 1000.7 266.0)"/>
<rect x="1008.6" y="264.6" width="2.8" height="2.8" rx="0.9" fill="#ee4a56" transform="rotate(20 1010.0 266.0)"/>
<rect x="995.6" y="274.9" width="2.8" height="2.8" rx="0.9" fill="#ee4a56" transform="rotate(20 997.0 276.3)"/>
<rect x="1006.6" y="277.6" width="2.8" height="2.8" rx="0.9" fill="#ee4a56" transform="rotate(20 1008.0 279.0)"/>
<rect x="966.9" y="92.0" width="2.8" height="2.8" rx="0.9" fill="#ee4a56" transform="rotate(20 968.3 93.4)"/>
<line x1="973.9" y1="105.6" x2="980.4" y2="121.4" stroke="#f0583a" stroke-width="4"/>
<line x1="987" y1="133.6" x2="993.5" y2="149.5" stroke="#f0583a" stroke-width="4"/>
<line x1="997.2" y1="161.6" x2="1003.8" y2="178.5" stroke="#f0583a" stroke-width="4"/>
<line x1="1005.6" y1="189" x2="1010.2" y2="207" stroke="#f0583a" stroke-width="4"/>
<line x1="1012" y1="218.3" x2="1016.6" y2="236" stroke="#f0583a" stroke-width="4"/>
<line x1="1017.5" y1="247.3" x2="1021.3" y2="264" stroke="#f0583a" stroke-width="4"/>
<line x1="1021.3" y1="276.3" x2="1022.4" y2="288" stroke="#f0583a" stroke-width="4"/>
</g>
<path d="M824.5,90 L1009.5,90 A22,22 0 0 1 1031.5,112 L1031.5,286 L845,286 A20.5,20.5 0 0 1 824.5,265.5 Z" fill="none" stroke="#8266b0" stroke-width="2.1"/>
<line x1="781.7" y1="103.3" x2="848.8" y2="136.0" stroke="#7d5fa8" stroke-width="2.4"/>
<polygon points="860.0,141.5 844.2,140.7 849.7,129.6" fill="#7d5fa8"/>
<line x1="933" y1="61.7" x2="963.4" y2="107.1" stroke="#7d5fa8" stroke-width="2.4"/>
<polygon points="970.3,117.5 957.1,108.9 967.4,102.0" fill="#7d5fa8"/>
<line x1="949.5" y1="340.8" x2="915.2" y2="264.9" stroke="#7d5fa8" stroke-width="2.4"/>
<polygon points="910.0,253.5 921.6,264.2 910.3,269.3" fill="#7d5fa8"/>
<path d="M785.3,264.5 C779,250 775.5,236 775.9,226.1 C776.5,212 783,200 791.8,194.3 C798,190.5 805,188.5 813,187.5" fill="none" stroke="#7d5fa8" stroke-width="2.4"/>
<polygon points="825,186.5 811.3,180.8 813.6,193.4" fill="#7d5fa8"/>
<rect x="775.6" y="276.5" width="84.4" height="87" fill="none" stroke="#2e2e2e" stroke-width="1.3"/>
<line x1="317" y1="280.5" x2="354.5" y2="302.5" stroke="#1a1a1a" stroke-width="1.45" />
<line x1="250.7" y1="347.7" x2="275" y2="382.7" stroke="#1a1a1a" stroke-width="1.45" />
<line x1="262" y1="429.3" x2="303.8" y2="429.3" stroke="#8a8a8a" stroke-width="1.7" />
<polygon points="304.5,429.3 299,427.6 299,431" fill="#7a7a7a"/>
<line x1="255" y1="508.3" x2="311.7" y2="445" stroke="#1a1a1a" stroke-width="1.45" />
<line x1="283.3" y1="538.3" x2="313.3" y2="486.7" stroke="#1a1a1a" stroke-width="1.45" />
<line x1="325" y1="580" x2="334.3" y2="508.3" stroke="#1a1a1a" stroke-width="1.45" />
<line x1="460.3" y1="255.3" x2="556" y2="420" stroke="#1a1a1a" stroke-width="1.45" />
<line x1="558.75" y1="298" x2="520" y2="323" stroke="#1a1a1a" stroke-width="1.45" />
<line x1="595" y1="483.75" x2="603" y2="531" stroke="#1a1a1a" stroke-width="1.45" />
<line x1="661" y1="314.5" x2="556.5" y2="347.4" stroke="#1a1a1a" stroke-width="1.45" />
<line x1="564.2" y1="365.4" x2="658.75" y2="457" stroke="#1a1a1a" stroke-width="1.45" />
<g opacity="0.995">
<text x="249.6" y="274.3" font-size="20" font-family="Liberation Sans, sans-serif" fill="#111" stroke="#111" stroke-width="0.35" textLength="100" lengthAdjust="spacingAndGlyphs">Esclerótica</text>
<text x="430.2" y="248.3" font-size="16.6" font-weight="bold" font-family="Liberation Sans, sans-serif" fill="#3c3c3c" textLength="53" lengthAdjust="spacingAndGlyphs">Fóvea</text>
<text x="199.6" y="341" font-size="20" font-family="Liberation Sans, sans-serif" fill="#111" stroke="#111" stroke-width="0.35" textLength="66" lengthAdjust="spacingAndGlyphs">Córnea</text>
<text x="564.6" y="293.25" font-size="20" font-family="Liberation Sans, sans-serif" fill="#111" stroke="#111" stroke-width="0.35" textLength="57.3" lengthAdjust="spacingAndGlyphs">Retina</text>
<text x="197.2" y="435" font-size="20" font-family="Liberation Sans, sans-serif" fill="#111" stroke="#111" stroke-width="0.35" textLength="55" lengthAdjust="spacingAndGlyphs">Pupila</text>
<text x="174.6" y="528.3" font-size="20" font-family="Liberation Sans, sans-serif" fill="#111" stroke="#111" stroke-width="0.35" textLength="85" lengthAdjust="spacingAndGlyphs">Cristalino</text>
<text x="266.6" y="560" font-size="20" font-family="Liberation Sans, sans-serif" fill="#111" stroke="#111" stroke-width="0.35" textLength="25.6" lengthAdjust="spacingAndGlyphs">Iris</text>
<text x="299.6" y="599.5" font-size="20" font-family="Liberation Sans, sans-serif" fill="#111" stroke="#111" stroke-width="0.35" textLength="115.5" lengthAdjust="spacingAndGlyphs">Cuerpo ciliar</text>
<text x="580.1" y="547.5" font-size="20" font-family="Liberation Sans, sans-serif" fill="#111" stroke="#111" stroke-width="0.35" textLength="121" lengthAdjust="spacingAndGlyphs">Nervio óptico</text>
<text x="906.2" y="54.3" font-size="20" font-family="Liberation Sans, sans-serif" fill="#111" stroke="#111" stroke-width="0.35" textLength="81.4" lengthAdjust="spacingAndGlyphs">Coroides</text>
<text x="736.6" y="95.7" font-size="20" font-family="Liberation Sans, sans-serif" fill="#111" stroke="#111" stroke-width="0.35" textLength="63" lengthAdjust="spacingAndGlyphs">Bastón</text>
<text x="928.3" y="361.75" font-size="20" font-family="Liberation Sans, sans-serif" fill="#111" stroke="#111" stroke-width="0.35" textLength="47.8" lengthAdjust="spacingAndGlyphs">Cono</text>
<g fill="none" stroke="#111" stroke-width="2.35" stroke-linejoin="miter" stroke-miterlimit="10"><path d="M646.1,401.2 L658.9,401.2 L658.9,393.6"/><path d="M646.1,390.9 L655.6,390.9 A4.35,4.35 0 0 0 655.6,382.2 L646.1,382.2"/></g><path d="M646.1,377.3 L646.1,366.9 L648.45,366.9 L648.45,377.3Z M657.65,377.3 L657.65,366.9 L660,366.9 L660,377.3Z M648.4,366.9 L648.4,370 L657.7,377.3 L657.7,374.2Z" fill="#111"/>
</g>
<path d="M666.5,379 L676.5,385.2 L666.5,391.8" fill="none" stroke="#c4c4c4" stroke-width="1.6"/>
</svg>
</body></html>
